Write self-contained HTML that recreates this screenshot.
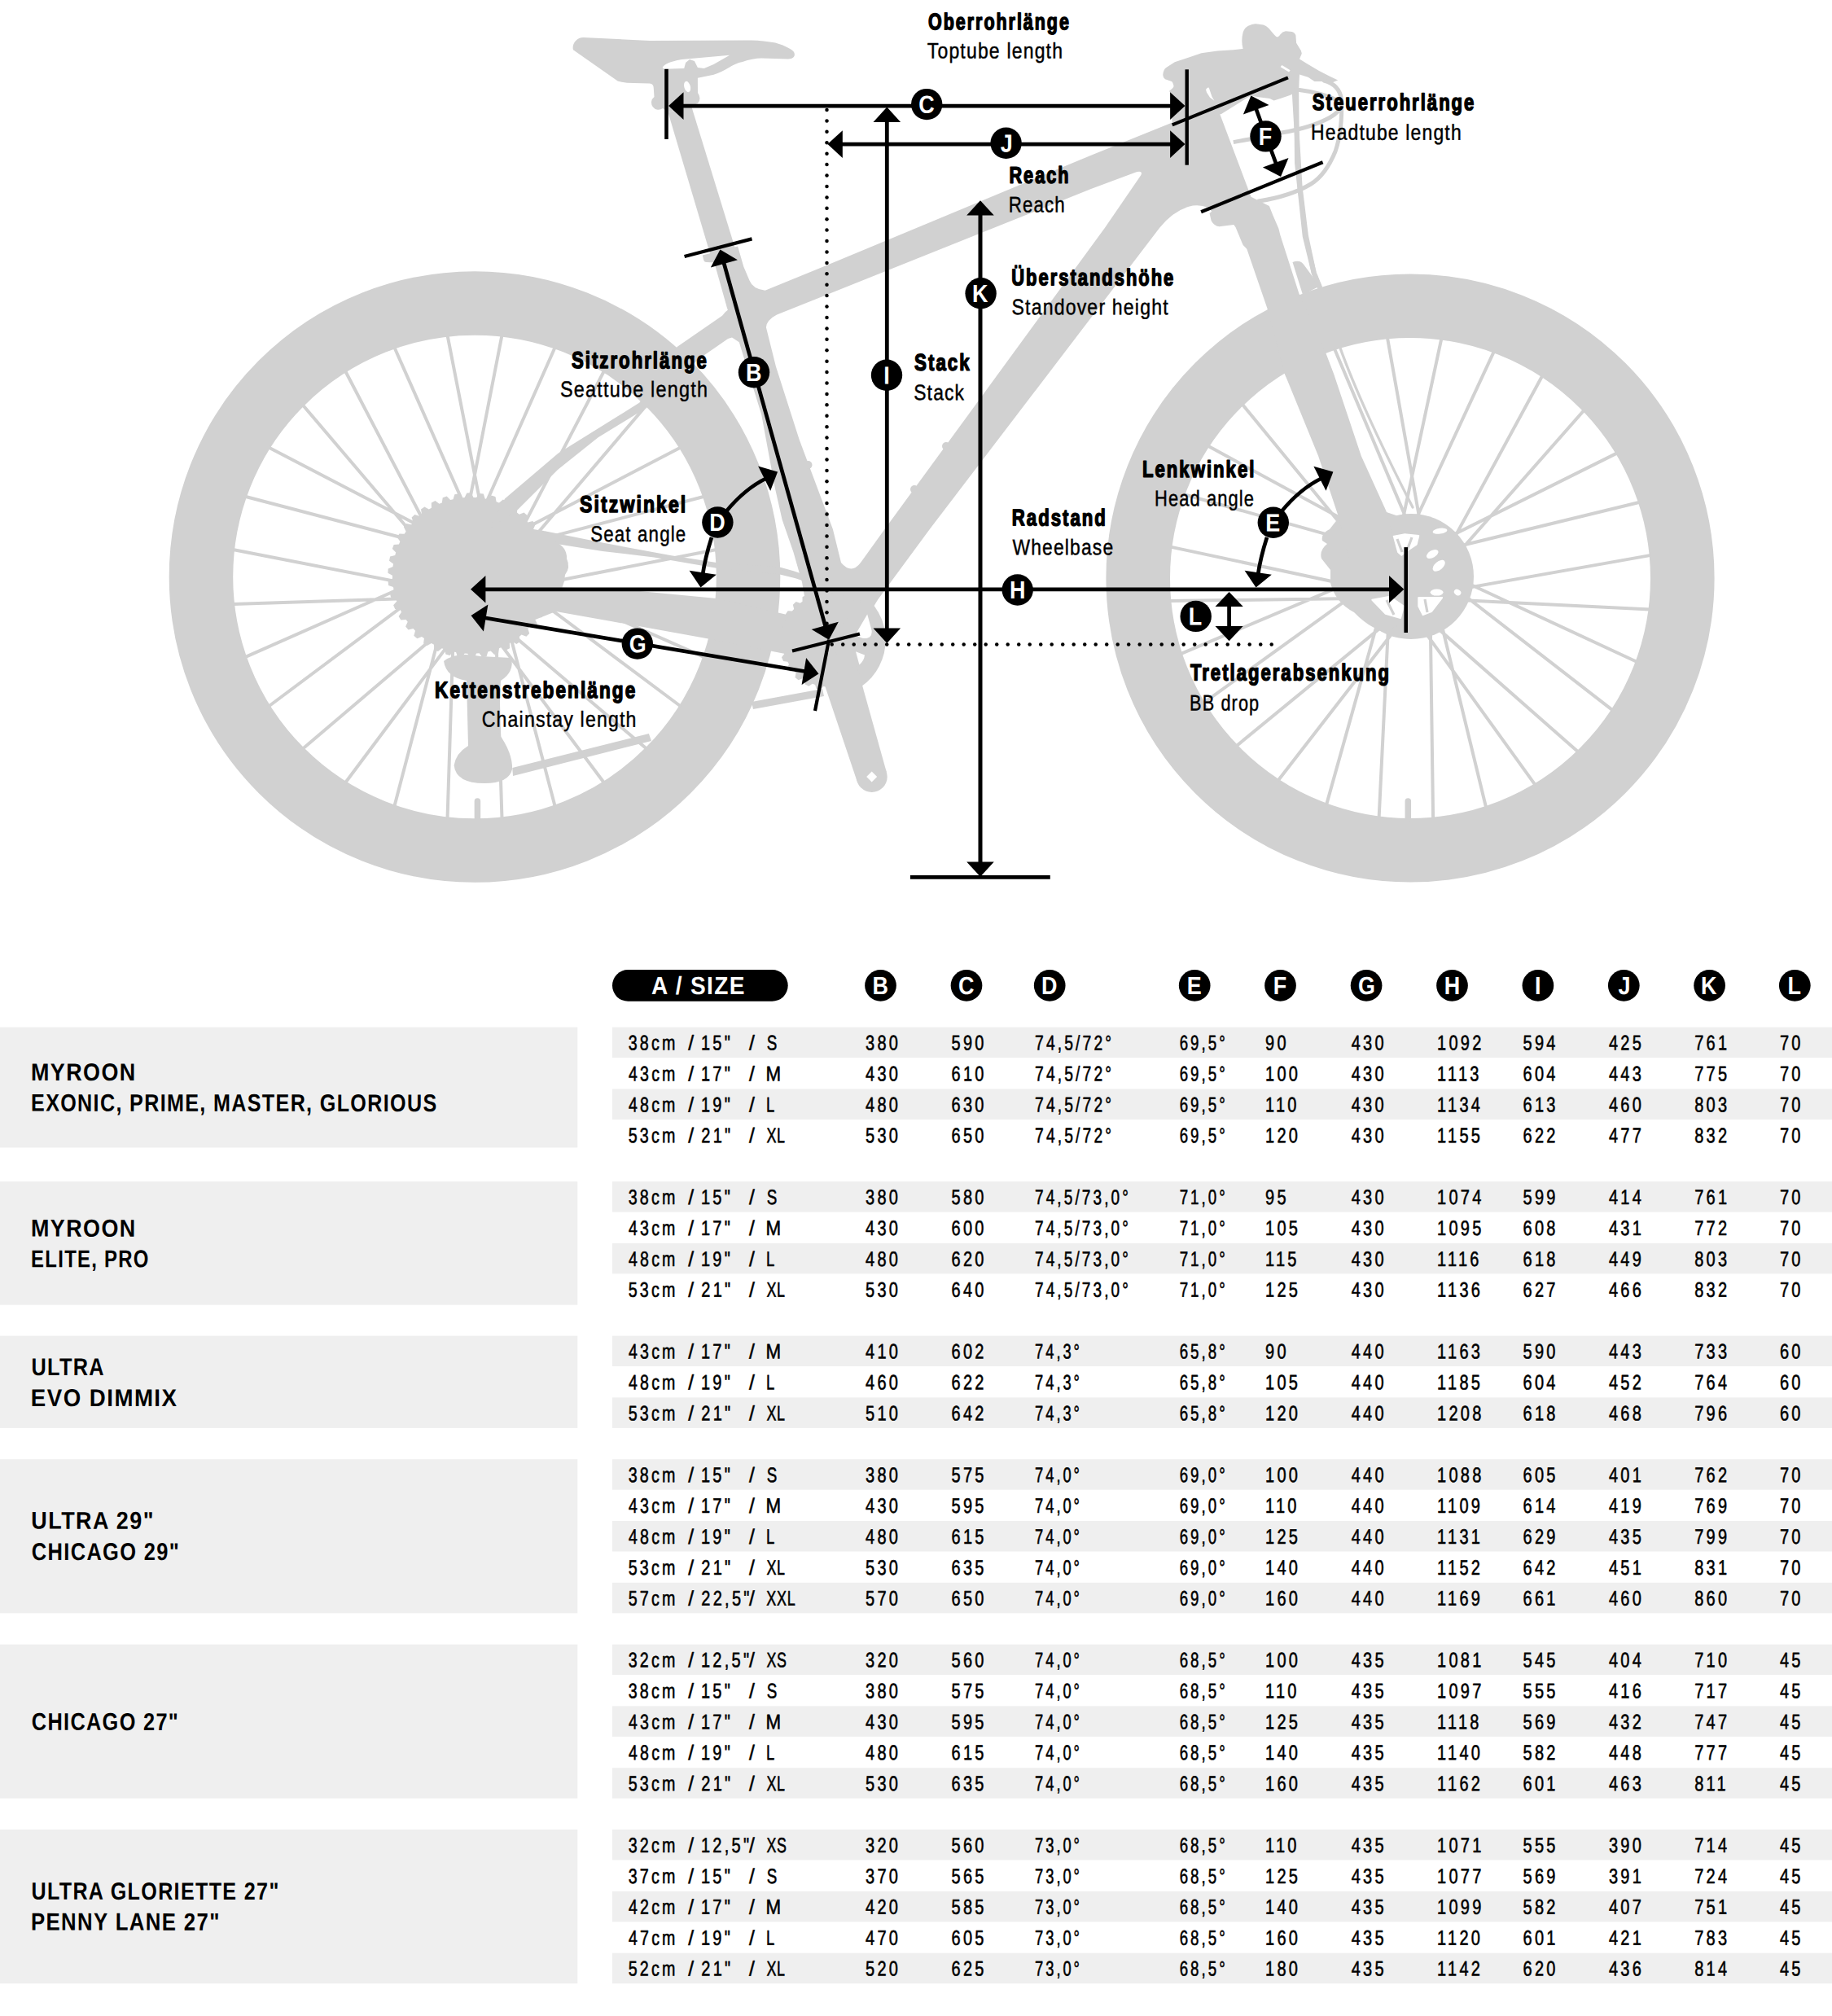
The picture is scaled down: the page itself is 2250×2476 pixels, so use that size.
<!DOCTYPE html>
<html lang="de">
<head>
<meta charset="utf-8">
<title>Geometrie</title>
<style>
html,body{margin:0;padding:0;background:#fff}
body{width:2250px;height:2476px;overflow:hidden}
svg{display:block;font-family:"Liberation Sans",sans-serif}
</style>
</head>
<body>
<svg width="2250" height="2476" viewBox="0 0 2250 2476">
<g id="bike">
<circle cx="583.0" cy="708.5" r="336.05" fill="none" stroke="#d1d1d1" stroke-width="78.50"/>
<path d="M616.5 411.6L559.4 703.9M681.7 426.5L561.1 698.8M742.0 455.5L604.3 719.6M794.3 497.2L601.3 724.0M836.0 549.5L571.9 687.2M865.0 609.8L576.9 685.3M879.9 675.0L587.6 732.1M879.9 742.0L582.3 732.5M865.0 807.2L592.7 686.6M836.0 867.5L597.4 689.3M794.3 919.8L567.5 726.8M742.0 961.5L563.8 722.9M681.7 990.5L606.2 702.4M616.5 1005.4L607.0 707.8M549.5 1005.4L559.0 707.8M484.3 990.5L559.8 702.4M424.0 961.5L602.2 722.9M371.7 919.8L598.5 726.8M330.0 867.5L568.6 689.3M301.0 807.2L573.3 686.6M286.1 742.0L583.7 732.5M286.1 675.0L578.4 732.1M301.0 609.8L589.1 685.3M330.0 549.5L594.1 687.2M371.7 497.2L564.7 724.0M424.0 455.5L561.7 719.6M484.3 426.5L604.9 698.8M549.5 411.6L606.6 703.9" fill="none" stroke="#d1d1d1" stroke-width="4.0"/>
<circle cx="1732.0" cy="710.0" r="334.30" fill="none" stroke="#d1d1d1" stroke-width="78.60"/>
<path d="M1770.4 415.5L1708.5 705.0M1835.0 431.4L1710.2 699.9M1894.4 461.3L1753.1 721.4M1945.6 503.7L1750.0 725.9M1986.2 556.4L1721.3 688.5M2014.0 616.8L1726.3 686.7M2027.7 681.9L1736.2 733.6M2026.5 748.4L1730.8 734.0M2010.6 813.0L1742.1 688.2M1980.7 872.4L1746.7 691.0M1938.3 923.6L1716.1 728.0M1885.6 964.2L1712.5 724.0M1825.2 992.0L1755.3 704.3M1760.1 1005.7L1756.0 709.7M1693.6 1004.5L1708.0 708.8M1629.0 988.6L1708.9 703.5M1569.6 958.7L1751.0 724.7M1518.4 916.3L1747.2 728.6M1477.8 863.6L1718.0 690.5M1450.0 803.2L1722.6 687.9M1436.3 738.1L1732.3 734.0M1437.5 671.6L1727.0 733.5M1453.4 607.0L1738.5 686.9M1483.3 547.6L1743.4 688.9M1525.7 496.4L1713.4 725.2M1578.4 455.8L1710.5 720.7M1638.8 428.0L1754.1 700.6M1703.9 414.3L1755.6 705.8" fill="none" stroke="#d1d1d1" stroke-width="4.0"/>
<path d="M586.4 984 L586.4 1006" fill="none" stroke="#d1d1d1" stroke-width="7.5" stroke-linecap="round" stroke-linejoin="round"/>
<path d="M1729.3 984 L1729.3 1006" fill="none" stroke="#d1d1d1" stroke-width="7.5" stroke-linecap="round" stroke-linejoin="round"/>
<polygon points="673.9,706.8 679.4,709.8 679.1,715.1 673.3,717.5 672.8,721.1 677.8,724.9 676.7,730.1 670.6,731.6 669.6,735.1 674.0,739.6 672.1,744.6 665.9,745.2 664.4,748.5 668.0,753.6 665.4,758.2 659.2,757.9 657.2,760.9 660.0,766.5 656.8,770.7 650.7,769.4 648.3,772.1 650.2,778.0 646.4,781.7 640.5,779.6 637.8,781.9 638.8,788.0 634.4,791.1 629.0,788.1 625.9,789.9 626.0,796.2 621.3,798.6 616.3,794.8 613.0,796.2 612.1,802.4 607.1,804.0 602.7,799.5 599.3,800.4 597.5,806.4 592.3,807.3 588.6,802.2 585.1,802.5 582.5,808.2 577.1,808.3 574.3,802.7 570.7,802.5 567.3,807.7 562.0,807.1 560.1,801.1 556.5,800.4 552.4,805.0 547.3,803.6 546.2,797.4 542.8,796.2 538.0,800.1 533.2,797.9 533.0,791.7 529.9,789.9 524.5,793.1 520.1,790.2 520.9,784.0 518.0,781.9 512.3,784.2 508.3,780.7 510.0,774.7 507.5,772.1 501.5,773.6 498.1,769.5 500.7,763.8 498.6,760.9 492.4,761.4 489.6,756.9 493.0,751.7 491.4,748.5 485.2,748.1 483.1,743.2 487.3,738.5 486.2,735.1 480.1,733.8 478.8,728.6 483.6,724.6 483.0,721.1 477.1,718.9 476.6,713.6 482.0,710.4 481.9,706.8 476.4,703.8 476.7,698.5 482.5,696.1 483.0,692.5 478.0,688.7 479.1,683.5 485.2,682.0 486.2,678.5 481.8,674.0 483.7,669.0 489.9,668.4 491.4,665.1 487.8,660.0 490.4,655.4 496.6,655.7 498.6,652.7 495.8,647.1 499.0,642.9 505.1,644.2 507.5,641.5 505.6,635.6 509.4,631.9 515.3,634.0 518.0,631.7 517.0,625.6 521.4,622.5 526.8,625.5 529.9,623.7 529.8,617.4 534.5,615.0 539.5,618.8 542.8,617.4 543.7,611.2 548.7,609.6 553.1,614.1 556.5,613.2 558.3,607.2 563.5,606.3 567.2,611.4 570.7,611.1 573.3,605.4 578.7,605.3 581.5,610.9 585.1,611.1 588.5,605.9 593.8,606.5 595.7,612.5 599.3,613.2 603.4,608.6 608.5,610.0 609.6,616.2 613.0,617.4 617.8,613.5 622.6,615.7 622.8,621.9 625.9,623.7 631.3,620.5 635.7,623.4 634.9,629.6 637.8,631.7 643.5,629.4 647.5,632.9 645.8,638.9 648.3,641.5 654.3,640.0 657.7,644.1 655.1,649.8 657.2,652.7 663.4,652.2 666.2,656.7 662.8,661.9 664.4,665.1 670.6,665.5 672.7,670.4 668.5,675.1 669.6,678.5 675.7,679.8 677.0,685.0 672.2,689.0 672.8,692.5 678.7,694.7 679.2,700.0 673.8,703.2" fill="#d1d1d1"/>
<circle cx="1733.0" cy="708.0" r="77" fill="#d1d1d1"/>
<path d="M1644 636 L1633 650 Q1622 655 1624 664 L1630 668 Q1620 676 1623 686 L1634 700 L1634 716 Q1640 740 1663 752 Q1680 770 1700 776 L1735 760 L1735 640 L1700 628 Z" fill="#d1d1d1"/>
<polygon points="1708.3,659.4 1725.3,656.2 1742.3,658.1 1739.7,668.6 1731.8,673.8 1721.4,681.7 1713.5,675.2" fill="#fff" stroke="#fff" stroke-width="2" stroke-linejoin="round"/>
<polygon points="1742.3,734.1 1771.1,734.1 1758.0,751.1 1747.6,755.1 1742.3,744.6" fill="#fff" stroke="#fff" stroke-width="2" stroke-linejoin="round"/>
<polygon points="1685.3,736.7 1706.9,732.8 1724.0,744.6 1720.0,759.0 1701.7,753.8" fill="#fff" stroke="#fff" stroke-width="2" stroke-linejoin="round"/>
<ellipse cx="1759.3" cy="680.4" rx="8" ry="4.4" transform="rotate(-30 1759.3 680.4)" fill="#fff"/>
<ellipse cx="1767.2" cy="694.8" rx="9" ry="5" transform="rotate(-40 1767.2 694.8)" fill="#fff"/>
<ellipse cx="1768.5" cy="652.2" rx="9" ry="3.4" transform="rotate(-8 1768.5 652.2)" fill="#fff"/>
<ellipse cx="1764.6" cy="727.6" rx="8" ry="4" transform="rotate(0 1764.6 727.6)" fill="#fff"/>
<ellipse cx="1790.1" cy="727.6" rx="4.5" ry="3.5" transform="rotate(30 1790.1 727.6)" fill="#fff"/>
<path d="M1716 662 L1722 678 M1734 660 L1728 676 M1750 736 L1753 752 M1703 737 L1712 755" fill="none" stroke="#d1d1d1" stroke-width="3.2" stroke-linejoin="round"/>
<path d="M716.4 45.9 C708 46 702 54 704 61.3 L758.6 99.6 Q768 102 778.3 102.1 L797.9 102.5 Q802.8 103 802.8 108.4 L803.5 119 A8.5 8.5 0 1 0 814 133 L820.5 137.9 L849 130 L856.9 127.1 Q862 121 857 114 L856.9 95.7 L876.5 91.7 C890 88 900 78 911.9 76 C920 73 928 71.5 935.5 71.5 L968 72.5 C978 72 978 64 970.8 60.3 C962 55 955 52.5 945.3 51.4 C935 49.8 925 49.5 915.8 49.5 L797.9 49.9 Z" fill="#d1d1d1"/>
<path d="M813.6 82.9 C816 79 822 76 837.2 73.1 L896.2 67.8 L876.5 79 L864.7 83.9 L856.9 82.9 L852.9 75 L847 73.1 L842.1 77 L840.2 83.9 L815.6 84.8 Z" fill="#fff"/>
<ellipse cx="844.1" cy="106.5" rx="3.8" ry="6.8" transform="rotate(-15 844.1 106.5)" fill="#fff"/>
<polygon points="820.5,137.9 849.0,130.0 905.0,312.0 874.0,318.0" fill="#d1d1d1"/>
<path d="M862.8 313.5 L906.1 302.4 L913.3 327.6 L920.5 344.5 Q924.5 355 939.7 356.7 L1030 319.8 L1340 190.7 L1439.7 150.4 L1438 125 L1494.9 131.2 L1537 242.9 L1536 250 L1490 262 L1484 254.9 Q1472 250.5 1460 253.7 Q1440 260 1424 280 L1141.8 650 L1078.1 736.5 L1040 800 L1000 800 L985 715 L974.4 677.9 L960.7 638.6 L951.8 599.3 L935.2 509.3 L907.7 420 L892.9 378.1 L877.3 322.4 L868 322 Q864.5 322 864 318.5 Z M940.9 402.1 Q941.5 393 954.1 386.5 L1340 232.1 L1396.4 211.1 Q1404 209.5 1401.2 215.3 L1356.8 280 L1086.5 650 L1057 691 Q1045.7 706 1033 691 L1022.9 650 L981.7 540 L952.9 450 Z" fill="#d1d1d1" fill-rule="evenodd"/>
<circle cx="1162" cy="548" r="5" fill="#d1d1d1"/><circle cx="1123" cy="601" r="5" fill="#d1d1d1"/>
<circle cx="992.5" cy="571" r="5" fill="#d1d1d1"/><circle cx="1013" cy="632" r="5" fill="#d1d1d1"/>
<polygon points="900.0,376.0 891.0,383.0 887.0,387.7 831.6,426.1 785.4,494.6 685.5,556.8 620.0,612.5 600.0,650.0 636.4,625.6 685.5,576.5 734.6,537.2 793.6,501.2 858.0,440.9 894.1,415.9 899.0,414.5 915.0,425.0" fill="#d1d1d1"/>
<polygon points="670.0,712.0 690.0,721.5 760.0,723.5 880.0,735.0 1010.0,765.0 1010.0,812.0 870.0,784.4 680.0,750.4" fill="#d1d1d1"/>
<polygon points="668.0,652.0 740.0,666.6 824.5,682.3 880.0,691.0 957.7,696.6 975.4,701.5 1000.0,710.0 1000.0,718.0 977.0,710.3 957.7,705.4 880.0,697.8 803.2,684.5 740.0,677.0 677.0,667.0" fill="#d1d1d1"/>
<path d="M655 650 L668 652 L680 664 Q697 672 696 686 Q701 697 694 706 L693 714 L680 752 L655 762 Z" fill="#d1d1d1"/>
<polygon points="1075.7,786.0 1080.1,789.0 1079.7,794.2 1074.8,796.4 1074.0,799.8 1077.6,803.7 1075.9,808.7 1070.6,809.6 1069.1,812.7 1071.6,817.4 1068.8,821.8 1063.5,821.5 1061.2,824.1 1062.6,829.3 1058.7,832.9 1053.7,831.3 1050.9,833.3 1050.9,838.7 1046.3,841.2 1041.8,838.4 1038.6,839.8 1037.4,845.0 1032.3,846.4 1028.6,842.6 1025.1,843.1 1022.7,847.8 1017.5,848.0 1014.7,843.4 1011.3,843.1 1007.8,847.1 1002.6,846.0 1001.1,840.9 997.8,839.8 993.4,842.8 988.7,840.5 988.5,835.2 985.5,833.3 980.6,835.3 976.5,831.9 977.5,826.7 975.2,824.1 969.9,824.8 966.8,820.6 969.0,815.7 967.3,812.7 962.0,812.1 960.0,807.3 963.3,803.1 962.4,799.8 957.4,797.9 956.6,792.7 960.8,789.5 960.7,786.0 956.3,783.0 956.7,777.8 961.6,775.6 962.4,772.2 958.8,768.3 960.5,763.3 965.8,762.4 967.3,759.3 964.8,754.6 967.6,750.2 972.9,750.5 975.2,747.9 973.8,742.7 977.7,739.1 982.7,740.7 985.5,738.7 985.5,733.3 990.1,730.8 994.6,733.6 997.8,732.2 999.0,727.0 1004.1,725.6 1007.8,729.4 1011.3,728.9 1013.7,724.2 1018.9,724.0 1021.7,728.6 1025.1,728.9 1028.6,724.9 1033.8,726.0 1035.3,731.1 1038.6,732.2 1043.0,729.2 1047.7,731.5 1047.9,736.8 1050.9,738.7 1055.8,736.7 1059.9,740.1 1058.9,745.3 1061.2,747.9 1066.5,747.2 1069.6,751.4 1067.4,756.3 1069.1,759.3 1074.4,759.9 1076.4,764.7 1073.1,768.9 1074.0,772.2 1079.0,774.1 1079.8,779.3 1075.6,782.5" fill="#d1d1d1"/>
<path d="M1018.2 786.0 L1062.9 732.8 A69.5 69.5 0 0 1 1050.8 847.4 Z" fill="#d1d1d1"/>
<path d="M1065.2 754.4 L1052 777 Q1051 782 1056 782.5 Q1062 785.5 1068 782.5 Q1071.5 779 1070.5 774 Z" fill="#fff"/>
<path d="M1051 800.3 L1062 804.6 Q1061.5 811 1055.4 816.6 Z" fill="#fff"/>
<polygon points="1052.4,817.9 1088.8,948.2 1052.6,959.6 1009.5,831.5" fill="#d1d1d1"/>
<circle cx="1070.7" cy="953.9" r="19" fill="#d1d1d1"/>
<polygon points="1070.7,947.4 1077.2,953.9 1070.7,960.4 1064.2,953.9" fill="#fff"/>
<path d="M1485.5 262.1 L1487.7 271.3 Q1492 279 1499.2 278.1 L1515.3 275.9 L1517.6 279.3 L1526.7 301.1 L1531.3 305.7 L1556.5 379 L1578 459.4 L1619.1 560 L1644.3 635.7 L1660 700 L1722 700 L1702.4 627.5 L1671.8 560 L1638.2 459.4 L1628.2 433.2 L1595.5 360.7 L1572.6 289.6 L1570.3 280.4 L1563.4 264.4 L1558.8 252.9 L1537 242 L1500 250 Z" fill="#d1d1d1"/>
<path d="M1587.5 322 Q1597 318 1602 326 L1620.7 351.5 L1600 362 Z" fill="#d1d1d1"/>
<path d="M1589 100 L1596.6 230 L1604 290 L1613.8 335.5 L1622 356" fill="none" stroke="#d1d1d1" stroke-width="6" stroke-linejoin="round"/>
<path d="M1645.7 426.6 Q1672 500 1735 623" fill="none" stroke="#d1d1d1" stroke-width="3.2" stroke-linecap="round" stroke-linejoin="round"/>
<path d="M1428.3 91.4 Q1429 85 1432.3 82.9 L1442.8 76.3 L1462.4 69.8 L1475.5 65.2 L1495.2 62.6 L1514.8 61.3 L1526.6 60 Q1524 50 1526.6 39.7 Q1529 33.5 1533.1 31.8 Q1538 29 1542.3 29.2 L1551.5 30.5 Q1555 31.5 1558 34.4 L1564.6 42.3 Q1567 45.5 1569.2 45.5 Q1571 45 1572.5 42.3 Q1575 39 1579 38.3 L1586.9 39 Q1590.5 40 1591.4 43.6 L1592.1 52.8 L1596 59.3 Q1599 63 1598.7 65.9 L1596 72.4 L1606.5 79 L1619.6 86.8 L1632.7 93.4 L1643.2 98.6 L1636 101.5 L1624.9 99.9 L1614.4 99.9 L1606.5 94.7 L1596 91.4 L1595 112 L1584.2 117 L1572.5 120.9 L1564.6 123.5 L1559.4 120.9 L1547.6 119.6 L1535.8 117.6 L1500 140 L1450 150 L1436.2 111.7 Q1442.5 107 1441.4 105.2 Q1440.5 100.5 1438.8 99.9 L1431 97.3 Q1428 95 1428.3 91.4 Z" fill="#d1d1d1"/>
<path d="M1481 110 Q1483 106.5 1484.8 107.8 L1486.2 112 L1488.6 119 L1491.4 123.7 L1486 119.8 L1482 113.5 Z" fill="#fff"/>
<path d="M1572.6 82.2 L1574.4 80 L1584.6 86.2 L1583 88.6 Z" fill="#fff"/>
<path d="M1592 95 L1593 200 L1602.7 290 L1613.8 335.5 L1621 353" fill="none" stroke="#d1d1d1" stroke-width="6" stroke-linejoin="round"/>
<path d="M1626 99 Q1645 104 1647.5 122 Q1649 160 1640 186 Q1628 215 1610 226 Q1585 241 1546 247" fill="none" stroke="#d1d1d1" stroke-width="5" stroke-linecap="round" stroke-linejoin="round"/>
<path d="M1596 110.5 Q1625 114 1644 124" fill="none" stroke="#d1d1d1" stroke-width="5" stroke-linecap="round" stroke-linejoin="round"/>
<path d="M1573.8 163 Q1610 157 1633 144.5 Q1645 138 1648 128" fill="none" stroke="#d1d1d1" stroke-width="5" stroke-linecap="round" stroke-linejoin="round"/>
<path d="M1514.8 174.6 L1536 170.7" fill="none" stroke="#d1d1d1" stroke-width="5" stroke-linejoin="round"/>
<path d="M545 812 Q560 800 590 806 L628 808 Q632 825 615 836 L612 900 Q630 925 629 945 Q625 962 595 962 Q560 962 557.6 940 Q560 925 575 916 L573 836 Q548 832 545 812 Z" fill="#d1d1d1"/>
<path d="M629.3 943 L796.9 901 L800 910 L630 953 Z" fill="#d1d1d1"/>
<path d="M923 862 L1010 846 L1012 855 L925 871 Z" fill="#d1d1d1"/>
</g>
<g id="dimensions">
<line x1="818.5" y1="84.8" x2="818.5" y2="170.9" stroke="#000" stroke-width="4.6"/>
<line x1="1457.7" y1="85.3" x2="1457.7" y2="202.7" stroke="#000" stroke-width="4.4"/>
<line x1="835.0" y1="130.1" x2="1440.0" y2="130.1" stroke="#000" stroke-width="4.7"/>
<polygon points="821.1,130.1 839.5,113.3 839.5,146.9" fill="#000"/>
<polygon points="1455.5,130.1 1437.1,146.9 1437.1,113.3" fill="#000"/>
<line x1="1030.0" y1="177.1" x2="1440.0" y2="177.1" stroke="#000" stroke-width="4.7"/>
<polygon points="1016.4,177.1 1034.8,160.3 1034.8,193.9" fill="#000"/>
<polygon points="1455.5,177.1 1437.1,193.9 1437.1,160.3" fill="#000"/>
<g fill="#000"><circle cx="1015.5" cy="135.0" r="2.25"/><circle cx="1015.5" cy="148.4" r="2.25"/><circle cx="1015.5" cy="161.8" r="2.25"/><circle cx="1015.5" cy="175.3" r="2.25"/><circle cx="1015.5" cy="188.7" r="2.25"/><circle cx="1015.5" cy="202.1" r="2.25"/><circle cx="1015.5" cy="215.5" r="2.25"/><circle cx="1015.5" cy="228.9" r="2.25"/><circle cx="1015.5" cy="242.4" r="2.25"/><circle cx="1015.5" cy="255.8" r="2.25"/><circle cx="1015.5" cy="269.2" r="2.25"/><circle cx="1015.5" cy="282.6" r="2.25"/><circle cx="1015.5" cy="296.0" r="2.25"/><circle cx="1015.5" cy="309.5" r="2.25"/><circle cx="1015.5" cy="322.9" r="2.25"/><circle cx="1015.5" cy="336.3" r="2.25"/><circle cx="1015.5" cy="349.7" r="2.25"/><circle cx="1015.5" cy="363.1" r="2.25"/><circle cx="1015.5" cy="376.6" r="2.25"/><circle cx="1015.5" cy="390.0" r="2.25"/><circle cx="1015.5" cy="403.4" r="2.25"/><circle cx="1015.5" cy="416.8" r="2.25"/><circle cx="1015.5" cy="430.2" r="2.25"/><circle cx="1015.5" cy="443.7" r="2.25"/><circle cx="1015.5" cy="457.1" r="2.25"/><circle cx="1015.5" cy="470.5" r="2.25"/><circle cx="1015.5" cy="483.9" r="2.25"/><circle cx="1015.5" cy="497.3" r="2.25"/><circle cx="1015.5" cy="510.8" r="2.25"/><circle cx="1015.5" cy="524.2" r="2.25"/><circle cx="1015.5" cy="537.6" r="2.25"/><circle cx="1015.5" cy="551.0" r="2.25"/><circle cx="1015.5" cy="564.4" r="2.25"/><circle cx="1015.5" cy="577.9" r="2.25"/><circle cx="1015.5" cy="591.3" r="2.25"/><circle cx="1015.5" cy="604.7" r="2.25"/><circle cx="1015.5" cy="618.1" r="2.25"/><circle cx="1015.5" cy="631.5" r="2.25"/><circle cx="1015.5" cy="645.0" r="2.25"/><circle cx="1015.5" cy="658.4" r="2.25"/><circle cx="1015.5" cy="671.8" r="2.25"/><circle cx="1015.5" cy="685.2" r="2.25"/><circle cx="1015.5" cy="698.6" r="2.25"/><circle cx="1015.5" cy="712.1" r="2.25"/><circle cx="1015.5" cy="725.5" r="2.25"/><circle cx="1015.5" cy="738.9" r="2.25"/><circle cx="1015.5" cy="752.3" r="2.25"/><circle cx="1015.5" cy="765.7" r="2.25"/></g>
<g fill="#000"><circle cx="1021.7" cy="791.5" r="2.25"/><circle cx="1035.2" cy="791.5" r="2.25"/><circle cx="1048.7" cy="791.5" r="2.25"/><circle cx="1062.2" cy="791.5" r="2.25"/><circle cx="1075.7" cy="791.5" r="2.25"/><circle cx="1089.2" cy="791.5" r="2.25"/><circle cx="1102.7" cy="791.5" r="2.25"/><circle cx="1116.2" cy="791.5" r="2.25"/><circle cx="1129.7" cy="791.5" r="2.25"/><circle cx="1143.2" cy="791.5" r="2.25"/><circle cx="1156.7" cy="791.5" r="2.25"/><circle cx="1170.2" cy="791.5" r="2.25"/><circle cx="1183.7" cy="791.5" r="2.25"/><circle cx="1197.2" cy="791.5" r="2.25"/><circle cx="1210.7" cy="791.5" r="2.25"/><circle cx="1224.2" cy="791.5" r="2.25"/><circle cx="1237.7" cy="791.5" r="2.25"/><circle cx="1251.2" cy="791.5" r="2.25"/><circle cx="1264.7" cy="791.5" r="2.25"/><circle cx="1278.2" cy="791.5" r="2.25"/><circle cx="1291.7" cy="791.5" r="2.25"/><circle cx="1305.2" cy="791.5" r="2.25"/><circle cx="1318.7" cy="791.5" r="2.25"/><circle cx="1332.2" cy="791.5" r="2.25"/><circle cx="1345.7" cy="791.5" r="2.25"/><circle cx="1359.2" cy="791.5" r="2.25"/><circle cx="1372.7" cy="791.5" r="2.25"/><circle cx="1386.2" cy="791.5" r="2.25"/><circle cx="1399.7" cy="791.5" r="2.25"/><circle cx="1413.2" cy="791.5" r="2.25"/><circle cx="1426.7" cy="791.5" r="2.25"/><circle cx="1440.2" cy="791.5" r="2.25"/><circle cx="1453.7" cy="791.5" r="2.25"/><circle cx="1467.2" cy="791.5" r="2.25"/><circle cx="1480.7" cy="791.5" r="2.25"/><circle cx="1494.2" cy="791.5" r="2.25"/><circle cx="1507.7" cy="791.5" r="2.25"/><circle cx="1521.2" cy="791.5" r="2.25"/><circle cx="1534.7" cy="791.5" r="2.25"/><circle cx="1548.2" cy="791.5" r="2.25"/><circle cx="1561.7" cy="791.5" r="2.25"/></g>
<line x1="1089.3" y1="145.0" x2="1089.3" y2="775.0" stroke="#000" stroke-width="4.8"/>
<polygon points="1089.3,131.6 1106.1,150.0 1072.5,150.0" fill="#000"/>
<polygon points="1089.3,789.9 1072.5,771.5 1106.1,771.5" fill="#000"/>
<line x1="1204.0" y1="260.0" x2="1204.0" y2="1062.0" stroke="#000" stroke-width="5.0"/>
<polygon points="1204.0,246.2 1220.8,264.6 1187.2,264.6" fill="#000"/>
<polygon points="1204.0,1076.8 1187.2,1058.4 1220.8,1058.4" fill="#000"/>
<line x1="1117.9" y1="1077.4" x2="1289.8" y2="1077.4" stroke="#000" stroke-width="4.6"/>
<line x1="592.0" y1="723.8" x2="1712.0" y2="723.8" stroke="#000" stroke-width="4.7"/>
<polygon points="578.0,723.8 596.4,707.0 596.4,740.6" fill="#000"/>
<polygon points="1724.4,723.8 1706.0,740.6 1706.0,707.0" fill="#000"/>
<line x1="1726.7" y1="672.1" x2="1726.7" y2="777.0" stroke="#000" stroke-width="4.6"/>
<line x1="840.6" y1="315.0" x2="923.5" y2="293.4" stroke="#000" stroke-width="4.2"/>
<line x1="888.5" y1="321.0" x2="1014.5" y2="772.0" stroke="#000" stroke-width="4.7"/>
<polygon points="884.5,306.6 905.9,319.3 872.8,328.6" fill="#000"/>
<polygon points="1018.1,785.7 996.7,773.0 1029.8,763.7" fill="#000"/>
<line x1="973.0" y1="799.5" x2="1055.9" y2="778.5" stroke="#000" stroke-width="4.2"/>
<line x1="592.0" y1="758.3" x2="997.0" y2="826.0" stroke="#000" stroke-width="4.7"/>
<polygon points="578.5,756.0 599.4,742.5 593.9,775.6" fill="#000"/>
<polygon points="1005.5,827.5 984.6,841.0 990.1,807.9" fill="#000"/>
<line x1="1018.1" y1="785.7" x2="1001.0" y2="873.0" stroke="#000" stroke-width="4.2"/>
<line x1="1439.7" y1="153.4" x2="1581.9" y2="95.4" stroke="#000" stroke-width="4.2"/>
<line x1="1475.1" y1="260.3" x2="1624.6" y2="199.3" stroke="#000" stroke-width="4.2"/>
<line x1="1541.5" y1="130.5" x2="1568.3" y2="204.0" stroke="#000" stroke-width="4.7"/>
<polygon points="1536.4,117.4 1558.5,128.9 1526.9,140.4" fill="#000"/>
<polygon points="1573.0,216.9 1550.9,205.4 1582.5,193.9" fill="#000"/>
<line x1="1509.6" y1="740.0" x2="1509.6" y2="775.0" stroke="#000" stroke-width="4.8"/>
<polygon points="1509.6,726.9 1526.7,744.9 1492.5,744.9" fill="#000"/>
<polygon points="1509.6,787.2 1492.5,768.9 1526.7,768.9" fill="#000"/>
<path d="M892 628 Q915 600 942 587" fill="none" stroke="#000" stroke-width="4.7"/>
<polygon points="955.1,579.4 946.2,602.7 931.1,572.6" fill="#000"/>
<path d="M874 660 Q866 685 863 706" fill="none" stroke="#000" stroke-width="4.7"/>
<polygon points="860.5,721.5 846.6,700.8 879.8,705.8" fill="#000"/>
<path d="M1574 628 Q1597 600 1624 587" fill="none" stroke="#000" stroke-width="4.7"/>
<polygon points="1637.4,579.5 1628.5,602.8 1613.4,572.7" fill="#000"/>
<path d="M1556 660 Q1548 685 1545 706" fill="none" stroke="#000" stroke-width="4.7"/>
<polygon points="1542.5,721.5 1528.6,700.8 1561.8,705.8" fill="#000"/>
<circle cx="1138.2" cy="128.1" r="19.2" fill="#000"/>
<circle cx="1235.6" cy="175.8" r="19.2" fill="#000"/>
<circle cx="1554.5" cy="167.4" r="19.2" fill="#000"/>
<circle cx="1204.6" cy="360.3" r="19.2" fill="#000"/>
<circle cx="926.0" cy="457.3" r="19.2" fill="#000"/>
<circle cx="1089.0" cy="460.8" r="19.2" fill="#000"/>
<circle cx="881.4" cy="641.5" r="19.2" fill="#000"/>
<circle cx="1563.8" cy="641.8" r="19.2" fill="#000"/>
<circle cx="1249.7" cy="724.5" r="19.2" fill="#000"/>
<circle cx="1468.7" cy="756.9" r="19.2" fill="#000"/>
<circle cx="782.8" cy="790.6" r="19.2" fill="#000"/>
</g>
<g id="labels">
<text transform="translate(1128.31 138.70) scale(0.8800 1) rotate(0.04)" font-size="30.60" font-weight="700" fill="#fff">C</text>
<text transform="translate(1228.87 186.40) scale(0.8800 1) rotate(0.04)" font-size="30.60" font-weight="700" fill="#fff">J</text>
<text transform="translate(1545.87 178.00) scale(0.8800 1) rotate(0.04)" font-size="30.60" font-weight="700" fill="#fff">F</text>
<text transform="translate(1194.08 370.90) scale(0.8800 1) rotate(0.04)" font-size="30.60" font-weight="700" fill="#fff">K</text>
<text transform="translate(915.90 467.90) scale(0.8800 1) rotate(0.04)" font-size="30.60" font-weight="700" fill="#fff">B</text>
<text transform="translate(1085.21 471.40) scale(0.8800 1) rotate(0.04)" font-size="30.60" font-weight="700" fill="#fff">I</text>
<text transform="translate(871.30 652.10) scale(0.8800 1) rotate(0.04)" font-size="30.60" font-weight="700" fill="#fff">D</text>
<text transform="translate(1554.33 652.40) scale(0.8800 1) rotate(0.04)" font-size="30.60" font-weight="700" fill="#fff">E</text>
<text transform="translate(1240.02 735.10) scale(0.8800 1) rotate(0.04)" font-size="30.60" font-weight="700" fill="#fff">H</text>
<text transform="translate(1459.86 767.50) scale(0.8800 1) rotate(0.04)" font-size="30.60" font-weight="700" fill="#fff">L</text>
<text transform="translate(772.70 801.20) scale(0.8800 1) rotate(0.04)" font-size="30.60" font-weight="700" fill="#fff">G</text>
<text transform="translate(1140.09 36.15) scale(0.7540 1) rotate(0.04)" font-size="28.50" textLength="231.766" lengthAdjust="spacingAndGlyphs" font-weight="700" letter-spacing="2.60" stroke="#000" stroke-width="1.50" stroke-linejoin="round">Oberrohrlänge</text>
<text transform="translate(1138.73 71.38) scale(0.8483 1) rotate(0.04)" font-size="27.10" textLength="197.375" lengthAdjust="spacingAndGlyphs" letter-spacing="1.40" stroke="#000" stroke-width="0.45" stroke-linejoin="round">Toptube length</text>
<text transform="translate(1611.84 135.05) scale(0.7739 1) rotate(0.04)" font-size="28.50" textLength="259.141" lengthAdjust="spacingAndGlyphs" font-weight="700" letter-spacing="2.60" stroke="#000" stroke-width="1.50" stroke-linejoin="round">Steuerrohrlänge</text>
<text transform="translate(1610.00 171.58) scale(0.8453 1) rotate(0.04)" font-size="27.10" textLength="219.859" lengthAdjust="spacingAndGlyphs" letter-spacing="1.40" stroke="#000" stroke-width="0.45" stroke-linejoin="round">Headtube length</text>
<text transform="translate(1239.52 224.65) scale(0.7594 1) rotate(0.04)" font-size="28.50" textLength="98.547" lengthAdjust="spacingAndGlyphs" font-weight="700" letter-spacing="2.60" stroke="#000" stroke-width="1.50" stroke-linejoin="round">Reach</text>
<text transform="translate(1238.74 260.38) scale(0.8223 1) rotate(0.04)" font-size="27.10" textLength="85.328" lengthAdjust="spacingAndGlyphs" letter-spacing="1.40" stroke="#000" stroke-width="0.45" stroke-linejoin="round">Reach</text>
<text transform="translate(1242.25 350.25) scale(0.7694 1) rotate(0.04)" font-size="28.50" textLength="261.281" lengthAdjust="spacingAndGlyphs" font-weight="700" letter-spacing="2.60" stroke="#000" stroke-width="1.50" stroke-linejoin="round">Überstandshöhe</text>
<text transform="translate(1242.47 386.18) scale(0.8506 1) rotate(0.04)" font-size="27.10" textLength="227.266" lengthAdjust="spacingAndGlyphs" letter-spacing="1.40" stroke="#000" stroke-width="0.45" stroke-linejoin="round">Standover height</text>
<text transform="translate(1122.94 454.75) scale(0.7846 1) rotate(0.04)" font-size="28.50" textLength="89.062" lengthAdjust="spacingAndGlyphs" font-weight="700" letter-spacing="2.60" stroke="#000" stroke-width="1.50" stroke-linejoin="round">Stack</text>
<text transform="translate(1122.18 491.28) scale(0.8433 1) rotate(0.04)" font-size="27.10" textLength="74.766" lengthAdjust="spacingAndGlyphs" letter-spacing="1.40" stroke="#000" stroke-width="0.45" stroke-linejoin="round">Stack</text>
<text transform="translate(701.94 452.05) scale(0.7779 1) rotate(0.04)" font-size="28.50" textLength="215.906" lengthAdjust="spacingAndGlyphs" font-weight="700" letter-spacing="2.60" stroke="#000" stroke-width="1.50" stroke-linejoin="round">Sitzrohrlänge</text>
<text transform="translate(687.96 487.18) scale(0.8644 1) rotate(0.04)" font-size="27.10" textLength="210.828" lengthAdjust="spacingAndGlyphs" letter-spacing="1.40" stroke="#000" stroke-width="0.45" stroke-linejoin="round">Seattube length</text>
<text transform="translate(712.05 629.05) scale(0.8078 1) rotate(0.04)" font-size="28.50" textLength="163.797" lengthAdjust="spacingAndGlyphs" font-weight="700" letter-spacing="2.60" stroke="#000" stroke-width="1.50" stroke-linejoin="round">Sitzwinkel</text>
<text transform="translate(725.19 664.88) scale(0.8231 1) rotate(0.04)" font-size="27.10" textLength="143.562" lengthAdjust="spacingAndGlyphs" letter-spacing="1.40" stroke="#000" stroke-width="0.45" stroke-linejoin="round">Seat angle</text>
<text transform="translate(1242.80 645.35) scale(0.7770 1) rotate(0.04)" font-size="28.50" textLength="150.656" lengthAdjust="spacingAndGlyphs" font-weight="700" letter-spacing="2.60" stroke="#000" stroke-width="1.50" stroke-linejoin="round">Radstand</text>
<text transform="translate(1243.39 681.28) scale(0.8431 1) rotate(0.04)" font-size="27.10" textLength="148.156" lengthAdjust="spacingAndGlyphs" letter-spacing="1.40" stroke="#000" stroke-width="0.45" stroke-linejoin="round">Wheelbase</text>
<text transform="translate(1402.90 585.85) scale(0.7768 1) rotate(0.04)" font-size="28.50" textLength="179.641" lengthAdjust="spacingAndGlyphs" font-weight="700" letter-spacing="2.60" stroke="#000" stroke-width="1.50" stroke-linejoin="round">Lenkwinkel</text>
<text transform="translate(1417.97 621.28) scale(0.8070 1) rotate(0.04)" font-size="27.10" textLength="152.594" lengthAdjust="spacingAndGlyphs" letter-spacing="1.40" stroke="#000" stroke-width="0.45" stroke-linejoin="round">Head angle</text>
<text transform="translate(1461.98 835.45) scale(0.7747 1) rotate(0.04)" font-size="28.50" textLength="317.641" lengthAdjust="spacingAndGlyphs" font-weight="700" letter-spacing="2.60" stroke="#000" stroke-width="1.50" stroke-linejoin="round">Tretlagerabsenkung</text>
<text transform="translate(1461.09 872.58) scale(0.8005 1) rotate(0.04)" font-size="27.10" textLength="107.703" lengthAdjust="spacingAndGlyphs" letter-spacing="1.40" stroke="#000" stroke-width="0.45" stroke-linejoin="round">BB drop</text>
<text transform="translate(534.08 856.95) scale(0.7935 1) rotate(0.04)" font-size="28.50" textLength="312.875" lengthAdjust="spacingAndGlyphs" font-weight="700" letter-spacing="2.60" stroke="#000" stroke-width="1.50" stroke-linejoin="round">Kettenstrebenlänge</text>
<text transform="translate(591.71 892.48) scale(0.8511 1) rotate(0.04)" font-size="27.10" textLength="224.234" lengthAdjust="spacingAndGlyphs" letter-spacing="1.40" stroke="#000" stroke-width="0.45" stroke-linejoin="round">Chainstay length</text>
</g>
<g id="table">
<rect x="752" y="1191.1" width="215.7" height="38.7" rx="19.35" fill="#000"/>
<circle cx="1081.5" cy="1210.4" r="19.35" fill="#000"/>
<circle cx="1187.0" cy="1210.4" r="19.35" fill="#000"/>
<circle cx="1289.2" cy="1210.4" r="19.35" fill="#000"/>
<circle cx="1467.2" cy="1210.4" r="19.35" fill="#000"/>
<circle cx="1572.5" cy="1210.4" r="19.35" fill="#000"/>
<circle cx="1678.1" cy="1210.4" r="19.35" fill="#000"/>
<circle cx="1783.5" cy="1210.4" r="19.35" fill="#000"/>
<circle cx="1888.9" cy="1210.4" r="19.35" fill="#000"/>
<circle cx="1994.3" cy="1210.4" r="19.35" fill="#000"/>
<circle cx="2099.6" cy="1210.4" r="19.35" fill="#000"/>
<circle cx="2204.3" cy="1210.4" r="19.35" fill="#000"/>
<rect x="0" y="1261.60" width="709.3" height="147.90" fill="#efefef"/>
<rect x="752" y="1261.60" width="1498" height="37.5" fill="#efefef"/>
<rect x="752" y="1337.40" width="1498" height="37.5" fill="#efefef"/>
<rect x="0" y="1451.10" width="709.3" height="151.60" fill="#efefef"/>
<rect x="752" y="1451.10" width="1498" height="37.5" fill="#efefef"/>
<rect x="752" y="1526.90" width="1498" height="37.5" fill="#efefef"/>
<rect x="0" y="1640.60" width="709.3" height="113.30" fill="#efefef"/>
<rect x="752" y="1640.60" width="1498" height="37.5" fill="#efefef"/>
<rect x="752" y="1716.40" width="1498" height="37.5" fill="#efefef"/>
<rect x="0" y="1792.20" width="709.3" height="189.10" fill="#efefef"/>
<rect x="752" y="1792.20" width="1498" height="37.5" fill="#efefef"/>
<rect x="752" y="1868.00" width="1498" height="37.5" fill="#efefef"/>
<rect x="752" y="1943.80" width="1498" height="37.5" fill="#efefef"/>
<rect x="0" y="2019.60" width="709.3" height="189.10" fill="#efefef"/>
<rect x="752" y="2019.60" width="1498" height="37.5" fill="#efefef"/>
<rect x="752" y="2095.40" width="1498" height="37.5" fill="#efefef"/>
<rect x="752" y="2171.20" width="1498" height="37.5" fill="#efefef"/>
<rect x="0" y="2247.00" width="709.3" height="189.10" fill="#efefef"/>
<rect x="752" y="2247.00" width="1498" height="37.5" fill="#efefef"/>
<rect x="752" y="2322.80" width="1498" height="37.5" fill="#efefef"/>
<rect x="752" y="2398.60" width="1498" height="37.5" fill="#efefef"/>
</g>
<g id="table-text">
<text transform="translate(799.96 1221.00) scale(0.9156 1) rotate(0.04)" font-size="30.60" textLength="126.469" lengthAdjust="spacingAndGlyphs" font-weight="700" letter-spacing="1.50" fill="#fff">A / SIZE</text>
<text transform="translate(1071.40 1221.00) scale(0.8800 1) rotate(0.04)" font-size="30.60" font-weight="700" fill="#fff">B</text>
<text transform="translate(1177.11 1221.00) scale(0.8800 1) rotate(0.04)" font-size="30.60" font-weight="700" fill="#fff">C</text>
<text transform="translate(1279.10 1221.00) scale(0.8800 1) rotate(0.04)" font-size="30.60" font-weight="700" fill="#fff">D</text>
<text transform="translate(1457.73 1221.00) scale(0.8800 1) rotate(0.04)" font-size="30.60" font-weight="700" fill="#fff">E</text>
<text transform="translate(1563.87 1221.00) scale(0.8800 1) rotate(0.04)" font-size="30.60" font-weight="700" fill="#fff">F</text>
<text transform="translate(1668.00 1221.00) scale(0.8800 1) rotate(0.04)" font-size="30.60" font-weight="700" fill="#fff">G</text>
<text transform="translate(1773.82 1221.00) scale(0.8800 1) rotate(0.04)" font-size="30.60" font-weight="700" fill="#fff">H</text>
<text transform="translate(1885.11 1221.00) scale(0.8800 1) rotate(0.04)" font-size="30.60" font-weight="700" fill="#fff">I</text>
<text transform="translate(1987.57 1221.00) scale(0.8800 1) rotate(0.04)" font-size="30.60" font-weight="700" fill="#fff">J</text>
<text transform="translate(2089.08 1221.00) scale(0.8800 1) rotate(0.04)" font-size="30.60" font-weight="700" fill="#fff">K</text>
<text transform="translate(2195.46 1221.00) scale(0.8800 1) rotate(0.04)" font-size="30.60" font-weight="700" fill="#fff">L</text>
<text transform="translate(37.92 1327.00) scale(0.8969 1) rotate(0.04)" font-size="30.00" textLength="144.609" lengthAdjust="spacingAndGlyphs" font-weight="700" letter-spacing="1.60">MYROON</text>
<text transform="translate(38.03 1364.60) scale(0.8376 1) rotate(0.04)" font-size="30.00" textLength="596.312" lengthAdjust="spacingAndGlyphs" font-weight="700" letter-spacing="1.60">EXONIC, PRIME, MASTER, GLORIOUS</text>
<text transform="translate(771.72 1289.58) scale(0.7669 1) rotate(0.04)" font-size="25.60" textLength="79.391" lengthAdjust="spacingAndGlyphs" letter-spacing="4.20" stroke="#000" stroke-width="0.60" stroke-linejoin="round">38cm</text>
<text transform="translate(845.19 1289.58) scale(0.9615 1) rotate(0.04)" font-size="25.60" stroke="#000" stroke-width="0.60" stroke-linejoin="round">/</text>
<text transform="translate(860.99 1289.58) scale(0.7800 1) rotate(0.04)" font-size="25.60" textLength="50.156" lengthAdjust="spacingAndGlyphs" letter-spacing="4.20" stroke="#000" stroke-width="0.60" stroke-linejoin="round">15&quot;</text>
<text transform="translate(919.99 1289.58) scale(0.9615 1) rotate(0.04)" font-size="25.60" stroke="#000" stroke-width="0.60" stroke-linejoin="round">/</text>
<text transform="translate(941.63 1289.58) scale(0.7342 1) rotate(0.04)" font-size="25.60" letter-spacing="1.00" stroke="#000" stroke-width="0.60" stroke-linejoin="round">S</text>
<text transform="translate(1063.10 1289.58) scale(0.7800 1) rotate(0.04)" font-size="25.60" textLength="55.312" lengthAdjust="spacingAndGlyphs" letter-spacing="4.20" stroke="#000" stroke-width="0.60" stroke-linejoin="round">380</text>
<text transform="translate(1168.60 1289.58) scale(0.7800 1) rotate(0.04)" font-size="25.60" textLength="55.312" lengthAdjust="spacingAndGlyphs" letter-spacing="4.20" stroke="#000" stroke-width="0.60" stroke-linejoin="round">590</text>
<text transform="translate(1271.02 1289.58) scale(0.7520 1) rotate(0.04)" font-size="25.60" textLength="129.234" lengthAdjust="spacingAndGlyphs" letter-spacing="4.20" stroke="#000" stroke-width="0.60" stroke-linejoin="round">74,5/72°</text>
<text transform="translate(1448.64 1289.58) scale(0.7297 1) rotate(0.04)" font-size="25.60" textLength="81.062" lengthAdjust="spacingAndGlyphs" letter-spacing="4.20" stroke="#000" stroke-width="0.60" stroke-linejoin="round">69,5°</text>
<text transform="translate(1554.10 1289.58) scale(0.7800 1) rotate(0.04)" font-size="25.60" textLength="36.875" lengthAdjust="spacingAndGlyphs" letter-spacing="4.20" stroke="#000" stroke-width="0.60" stroke-linejoin="round">90</text>
<text transform="translate(1659.70 1289.58) scale(0.7800 1) rotate(0.04)" font-size="25.60" textLength="55.312" lengthAdjust="spacingAndGlyphs" letter-spacing="4.20" stroke="#000" stroke-width="0.60" stroke-linejoin="round">430</text>
<text transform="translate(1765.10 1289.58) scale(0.7800 1) rotate(0.04)" font-size="25.60" textLength="73.750" lengthAdjust="spacingAndGlyphs" letter-spacing="4.20" stroke="#000" stroke-width="0.60" stroke-linejoin="round">1092</text>
<text transform="translate(1870.50 1289.58) scale(0.7800 1) rotate(0.04)" font-size="25.60" textLength="55.312" lengthAdjust="spacingAndGlyphs" letter-spacing="4.20" stroke="#000" stroke-width="0.60" stroke-linejoin="round">594</text>
<text transform="translate(1975.90 1289.58) scale(0.7800 1) rotate(0.04)" font-size="25.60" textLength="55.312" lengthAdjust="spacingAndGlyphs" letter-spacing="4.20" stroke="#000" stroke-width="0.60" stroke-linejoin="round">425</text>
<text transform="translate(2081.20 1289.58) scale(0.7800 1) rotate(0.04)" font-size="25.60" textLength="55.312" lengthAdjust="spacingAndGlyphs" letter-spacing="4.20" stroke="#000" stroke-width="0.60" stroke-linejoin="round">761</text>
<text transform="translate(2185.90 1289.58) scale(0.7800 1) rotate(0.04)" font-size="25.60" textLength="36.875" lengthAdjust="spacingAndGlyphs" letter-spacing="4.20" stroke="#000" stroke-width="0.60" stroke-linejoin="round">70</text>
<text transform="translate(772.02 1327.48) scale(0.7627 1) rotate(0.04)" font-size="25.60" textLength="79.391" lengthAdjust="spacingAndGlyphs" letter-spacing="4.20" stroke="#000" stroke-width="0.60" stroke-linejoin="round">43cm</text>
<text transform="translate(845.19 1327.48) scale(0.9615 1) rotate(0.04)" font-size="25.60" stroke="#000" stroke-width="0.60" stroke-linejoin="round">/</text>
<text transform="translate(860.99 1327.48) scale(0.7800 1) rotate(0.04)" font-size="25.60" textLength="50.156" lengthAdjust="spacingAndGlyphs" letter-spacing="4.20" stroke="#000" stroke-width="0.60" stroke-linejoin="round">17&quot;</text>
<text transform="translate(919.99 1327.48) scale(0.9615 1) rotate(0.04)" font-size="25.60" stroke="#000" stroke-width="0.60" stroke-linejoin="round">/</text>
<text transform="translate(940.51 1327.48) scale(0.8736 1) rotate(0.04)" font-size="25.60" letter-spacing="1.00" stroke="#000" stroke-width="0.60" stroke-linejoin="round">M</text>
<text transform="translate(1063.10 1327.48) scale(0.7800 1) rotate(0.04)" font-size="25.60" textLength="55.312" lengthAdjust="spacingAndGlyphs" letter-spacing="4.20" stroke="#000" stroke-width="0.60" stroke-linejoin="round">430</text>
<text transform="translate(1168.60 1327.48) scale(0.7800 1) rotate(0.04)" font-size="25.60" textLength="55.312" lengthAdjust="spacingAndGlyphs" letter-spacing="4.20" stroke="#000" stroke-width="0.60" stroke-linejoin="round">610</text>
<text transform="translate(1271.02 1327.48) scale(0.7520 1) rotate(0.04)" font-size="25.60" textLength="129.234" lengthAdjust="spacingAndGlyphs" letter-spacing="4.20" stroke="#000" stroke-width="0.60" stroke-linejoin="round">74,5/72°</text>
<text transform="translate(1448.64 1327.48) scale(0.7297 1) rotate(0.04)" font-size="25.60" textLength="81.062" lengthAdjust="spacingAndGlyphs" letter-spacing="4.20" stroke="#000" stroke-width="0.60" stroke-linejoin="round">69,5°</text>
<text transform="translate(1554.10 1327.48) scale(0.7800 1) rotate(0.04)" font-size="25.60" textLength="55.312" lengthAdjust="spacingAndGlyphs" letter-spacing="4.20" stroke="#000" stroke-width="0.60" stroke-linejoin="round">100</text>
<text transform="translate(1659.70 1327.48) scale(0.7800 1) rotate(0.04)" font-size="25.60" textLength="55.312" lengthAdjust="spacingAndGlyphs" letter-spacing="4.20" stroke="#000" stroke-width="0.60" stroke-linejoin="round">430</text>
<text transform="translate(1765.10 1327.48) scale(0.7800 1) rotate(0.04)" font-size="25.60" textLength="69.938" lengthAdjust="spacingAndGlyphs" letter-spacing="4.20" stroke="#000" stroke-width="0.60" stroke-linejoin="round">1113</text>
<text transform="translate(1870.50 1327.48) scale(0.7800 1) rotate(0.04)" font-size="25.60" textLength="55.312" lengthAdjust="spacingAndGlyphs" letter-spacing="4.20" stroke="#000" stroke-width="0.60" stroke-linejoin="round">604</text>
<text transform="translate(1975.90 1327.48) scale(0.7800 1) rotate(0.04)" font-size="25.60" textLength="55.312" lengthAdjust="spacingAndGlyphs" letter-spacing="4.20" stroke="#000" stroke-width="0.60" stroke-linejoin="round">443</text>
<text transform="translate(2081.20 1327.48) scale(0.7800 1) rotate(0.04)" font-size="25.60" textLength="55.312" lengthAdjust="spacingAndGlyphs" letter-spacing="4.20" stroke="#000" stroke-width="0.60" stroke-linejoin="round">775</text>
<text transform="translate(2185.90 1327.48) scale(0.7800 1) rotate(0.04)" font-size="25.60" textLength="36.875" lengthAdjust="spacingAndGlyphs" letter-spacing="4.20" stroke="#000" stroke-width="0.60" stroke-linejoin="round">70</text>
<text transform="translate(772.02 1365.38) scale(0.7627 1) rotate(0.04)" font-size="25.60" textLength="79.391" lengthAdjust="spacingAndGlyphs" letter-spacing="4.20" stroke="#000" stroke-width="0.60" stroke-linejoin="round">48cm</text>
<text transform="translate(845.19 1365.38) scale(0.9615 1) rotate(0.04)" font-size="25.60" stroke="#000" stroke-width="0.60" stroke-linejoin="round">/</text>
<text transform="translate(860.99 1365.38) scale(0.7800 1) rotate(0.04)" font-size="25.60" textLength="50.156" lengthAdjust="spacingAndGlyphs" letter-spacing="4.20" stroke="#000" stroke-width="0.60" stroke-linejoin="round">19&quot;</text>
<text transform="translate(919.99 1365.38) scale(0.9615 1) rotate(0.04)" font-size="25.60" stroke="#000" stroke-width="0.60" stroke-linejoin="round">/</text>
<text transform="translate(941.07 1365.38) scale(0.7213 1) rotate(0.04)" font-size="25.60" letter-spacing="1.00" stroke="#000" stroke-width="0.60" stroke-linejoin="round">L</text>
<text transform="translate(1063.10 1365.38) scale(0.7800 1) rotate(0.04)" font-size="25.60" textLength="55.312" lengthAdjust="spacingAndGlyphs" letter-spacing="4.20" stroke="#000" stroke-width="0.60" stroke-linejoin="round">480</text>
<text transform="translate(1168.60 1365.38) scale(0.7800 1) rotate(0.04)" font-size="25.60" textLength="55.312" lengthAdjust="spacingAndGlyphs" letter-spacing="4.20" stroke="#000" stroke-width="0.60" stroke-linejoin="round">630</text>
<text transform="translate(1271.02 1365.38) scale(0.7520 1) rotate(0.04)" font-size="25.60" textLength="129.234" lengthAdjust="spacingAndGlyphs" letter-spacing="4.20" stroke="#000" stroke-width="0.60" stroke-linejoin="round">74,5/72°</text>
<text transform="translate(1448.64 1365.38) scale(0.7297 1) rotate(0.04)" font-size="25.60" textLength="81.062" lengthAdjust="spacingAndGlyphs" letter-spacing="4.20" stroke="#000" stroke-width="0.60" stroke-linejoin="round">69,5°</text>
<text transform="translate(1554.10 1365.38) scale(0.7800 1) rotate(0.04)" font-size="25.60" textLength="53.406" lengthAdjust="spacingAndGlyphs" letter-spacing="4.20" stroke="#000" stroke-width="0.60" stroke-linejoin="round">110</text>
<text transform="translate(1659.70 1365.38) scale(0.7800 1) rotate(0.04)" font-size="25.60" textLength="55.312" lengthAdjust="spacingAndGlyphs" letter-spacing="4.20" stroke="#000" stroke-width="0.60" stroke-linejoin="round">430</text>
<text transform="translate(1765.10 1365.38) scale(0.7800 1) rotate(0.04)" font-size="25.60" textLength="71.844" lengthAdjust="spacingAndGlyphs" letter-spacing="4.20" stroke="#000" stroke-width="0.60" stroke-linejoin="round">1134</text>
<text transform="translate(1870.50 1365.38) scale(0.7800 1) rotate(0.04)" font-size="25.60" textLength="55.312" lengthAdjust="spacingAndGlyphs" letter-spacing="4.20" stroke="#000" stroke-width="0.60" stroke-linejoin="round">613</text>
<text transform="translate(1975.90 1365.38) scale(0.7800 1) rotate(0.04)" font-size="25.60" textLength="55.312" lengthAdjust="spacingAndGlyphs" letter-spacing="4.20" stroke="#000" stroke-width="0.60" stroke-linejoin="round">460</text>
<text transform="translate(2081.20 1365.38) scale(0.7800 1) rotate(0.04)" font-size="25.60" textLength="55.312" lengthAdjust="spacingAndGlyphs" letter-spacing="4.20" stroke="#000" stroke-width="0.60" stroke-linejoin="round">803</text>
<text transform="translate(2185.90 1365.38) scale(0.7800 1) rotate(0.04)" font-size="25.60" textLength="36.875" lengthAdjust="spacingAndGlyphs" letter-spacing="4.20" stroke="#000" stroke-width="0.60" stroke-linejoin="round">70</text>
<text transform="translate(771.72 1403.28) scale(0.7669 1) rotate(0.04)" font-size="25.60" textLength="79.391" lengthAdjust="spacingAndGlyphs" letter-spacing="4.20" stroke="#000" stroke-width="0.60" stroke-linejoin="round">53cm</text>
<text transform="translate(845.19 1403.28) scale(0.9615 1) rotate(0.04)" font-size="25.60" stroke="#000" stroke-width="0.60" stroke-linejoin="round">/</text>
<text transform="translate(861.30 1403.28) scale(0.7800 1) rotate(0.04)" font-size="25.60" textLength="50.156" lengthAdjust="spacingAndGlyphs" letter-spacing="4.20" stroke="#000" stroke-width="0.60" stroke-linejoin="round">21&quot;</text>
<text transform="translate(919.99 1403.28) scale(0.9615 1) rotate(0.04)" font-size="25.60" stroke="#000" stroke-width="0.60" stroke-linejoin="round">/</text>
<text transform="translate(941.43 1403.28) scale(0.6996 1) rotate(0.04)" font-size="25.60" textLength="33.312" lengthAdjust="spacingAndGlyphs" letter-spacing="1.00" stroke="#000" stroke-width="0.60" stroke-linejoin="round">XL</text>
<text transform="translate(1063.10 1403.28) scale(0.7800 1) rotate(0.04)" font-size="25.60" textLength="55.312" lengthAdjust="spacingAndGlyphs" letter-spacing="4.20" stroke="#000" stroke-width="0.60" stroke-linejoin="round">530</text>
<text transform="translate(1168.60 1403.28) scale(0.7800 1) rotate(0.04)" font-size="25.60" textLength="55.312" lengthAdjust="spacingAndGlyphs" letter-spacing="4.20" stroke="#000" stroke-width="0.60" stroke-linejoin="round">650</text>
<text transform="translate(1271.02 1403.28) scale(0.7520 1) rotate(0.04)" font-size="25.60" textLength="129.234" lengthAdjust="spacingAndGlyphs" letter-spacing="4.20" stroke="#000" stroke-width="0.60" stroke-linejoin="round">74,5/72°</text>
<text transform="translate(1448.64 1403.28) scale(0.7297 1) rotate(0.04)" font-size="25.60" textLength="81.062" lengthAdjust="spacingAndGlyphs" letter-spacing="4.20" stroke="#000" stroke-width="0.60" stroke-linejoin="round">69,5°</text>
<text transform="translate(1554.10 1403.28) scale(0.7800 1) rotate(0.04)" font-size="25.60" textLength="55.312" lengthAdjust="spacingAndGlyphs" letter-spacing="4.20" stroke="#000" stroke-width="0.60" stroke-linejoin="round">120</text>
<text transform="translate(1659.70 1403.28) scale(0.7800 1) rotate(0.04)" font-size="25.60" textLength="55.312" lengthAdjust="spacingAndGlyphs" letter-spacing="4.20" stroke="#000" stroke-width="0.60" stroke-linejoin="round">430</text>
<text transform="translate(1765.10 1403.28) scale(0.7800 1) rotate(0.04)" font-size="25.60" textLength="71.844" lengthAdjust="spacingAndGlyphs" letter-spacing="4.20" stroke="#000" stroke-width="0.60" stroke-linejoin="round">1155</text>
<text transform="translate(1870.50 1403.28) scale(0.7800 1) rotate(0.04)" font-size="25.60" textLength="55.312" lengthAdjust="spacingAndGlyphs" letter-spacing="4.20" stroke="#000" stroke-width="0.60" stroke-linejoin="round">622</text>
<text transform="translate(1975.90 1403.28) scale(0.7800 1) rotate(0.04)" font-size="25.60" textLength="55.312" lengthAdjust="spacingAndGlyphs" letter-spacing="4.20" stroke="#000" stroke-width="0.60" stroke-linejoin="round">477</text>
<text transform="translate(2081.20 1403.28) scale(0.7800 1) rotate(0.04)" font-size="25.60" textLength="55.312" lengthAdjust="spacingAndGlyphs" letter-spacing="4.20" stroke="#000" stroke-width="0.60" stroke-linejoin="round">832</text>
<text transform="translate(2185.90 1403.28) scale(0.7800 1) rotate(0.04)" font-size="25.60" textLength="36.875" lengthAdjust="spacingAndGlyphs" letter-spacing="4.20" stroke="#000" stroke-width="0.60" stroke-linejoin="round">70</text>
<text transform="translate(37.92 1518.60) scale(0.8969 1) rotate(0.04)" font-size="30.00" textLength="144.609" lengthAdjust="spacingAndGlyphs" font-weight="700" letter-spacing="1.60">MYROON</text>
<text transform="translate(38.11 1556.20) scale(0.7972 1) rotate(0.04)" font-size="30.00" textLength="182.688" lengthAdjust="spacingAndGlyphs" font-weight="700" letter-spacing="1.60">ELITE, PRO</text>
<text transform="translate(771.72 1479.08) scale(0.7669 1) rotate(0.04)" font-size="25.60" textLength="79.391" lengthAdjust="spacingAndGlyphs" letter-spacing="4.20" stroke="#000" stroke-width="0.60" stroke-linejoin="round">38cm</text>
<text transform="translate(845.19 1479.08) scale(0.9615 1) rotate(0.04)" font-size="25.60" stroke="#000" stroke-width="0.60" stroke-linejoin="round">/</text>
<text transform="translate(860.99 1479.08) scale(0.7800 1) rotate(0.04)" font-size="25.60" textLength="50.156" lengthAdjust="spacingAndGlyphs" letter-spacing="4.20" stroke="#000" stroke-width="0.60" stroke-linejoin="round">15&quot;</text>
<text transform="translate(919.99 1479.08) scale(0.9615 1) rotate(0.04)" font-size="25.60" stroke="#000" stroke-width="0.60" stroke-linejoin="round">/</text>
<text transform="translate(941.63 1479.08) scale(0.7342 1) rotate(0.04)" font-size="25.60" letter-spacing="1.00" stroke="#000" stroke-width="0.60" stroke-linejoin="round">S</text>
<text transform="translate(1063.10 1479.08) scale(0.7800 1) rotate(0.04)" font-size="25.60" textLength="55.312" lengthAdjust="spacingAndGlyphs" letter-spacing="4.20" stroke="#000" stroke-width="0.60" stroke-linejoin="round">380</text>
<text transform="translate(1168.60 1479.08) scale(0.7800 1) rotate(0.04)" font-size="25.60" textLength="55.312" lengthAdjust="spacingAndGlyphs" letter-spacing="4.20" stroke="#000" stroke-width="0.60" stroke-linejoin="round">580</text>
<text transform="translate(1271.03 1479.08) scale(0.7417 1) rotate(0.04)" font-size="25.60" textLength="158.984" lengthAdjust="spacingAndGlyphs" letter-spacing="4.20" stroke="#000" stroke-width="0.60" stroke-linejoin="round">74,5/73,0°</text>
<text transform="translate(1448.64 1479.08) scale(0.7297 1) rotate(0.04)" font-size="25.60" textLength="81.062" lengthAdjust="spacingAndGlyphs" letter-spacing="4.20" stroke="#000" stroke-width="0.60" stroke-linejoin="round">71,0°</text>
<text transform="translate(1554.10 1479.08) scale(0.7800 1) rotate(0.04)" font-size="25.60" textLength="36.875" lengthAdjust="spacingAndGlyphs" letter-spacing="4.20" stroke="#000" stroke-width="0.60" stroke-linejoin="round">95</text>
<text transform="translate(1659.70 1479.08) scale(0.7800 1) rotate(0.04)" font-size="25.60" textLength="55.312" lengthAdjust="spacingAndGlyphs" letter-spacing="4.20" stroke="#000" stroke-width="0.60" stroke-linejoin="round">430</text>
<text transform="translate(1765.10 1479.08) scale(0.7800 1) rotate(0.04)" font-size="25.60" textLength="73.750" lengthAdjust="spacingAndGlyphs" letter-spacing="4.20" stroke="#000" stroke-width="0.60" stroke-linejoin="round">1074</text>
<text transform="translate(1870.50 1479.08) scale(0.7800 1) rotate(0.04)" font-size="25.60" textLength="55.312" lengthAdjust="spacingAndGlyphs" letter-spacing="4.20" stroke="#000" stroke-width="0.60" stroke-linejoin="round">599</text>
<text transform="translate(1975.90 1479.08) scale(0.7800 1) rotate(0.04)" font-size="25.60" textLength="55.312" lengthAdjust="spacingAndGlyphs" letter-spacing="4.20" stroke="#000" stroke-width="0.60" stroke-linejoin="round">414</text>
<text transform="translate(2081.20 1479.08) scale(0.7800 1) rotate(0.04)" font-size="25.60" textLength="55.312" lengthAdjust="spacingAndGlyphs" letter-spacing="4.20" stroke="#000" stroke-width="0.60" stroke-linejoin="round">761</text>
<text transform="translate(2185.90 1479.08) scale(0.7800 1) rotate(0.04)" font-size="25.60" textLength="36.875" lengthAdjust="spacingAndGlyphs" letter-spacing="4.20" stroke="#000" stroke-width="0.60" stroke-linejoin="round">70</text>
<text transform="translate(772.02 1516.98) scale(0.7627 1) rotate(0.04)" font-size="25.60" textLength="79.391" lengthAdjust="spacingAndGlyphs" letter-spacing="4.20" stroke="#000" stroke-width="0.60" stroke-linejoin="round">43cm</text>
<text transform="translate(845.19 1516.98) scale(0.9615 1) rotate(0.04)" font-size="25.60" stroke="#000" stroke-width="0.60" stroke-linejoin="round">/</text>
<text transform="translate(860.99 1516.98) scale(0.7800 1) rotate(0.04)" font-size="25.60" textLength="50.156" lengthAdjust="spacingAndGlyphs" letter-spacing="4.20" stroke="#000" stroke-width="0.60" stroke-linejoin="round">17&quot;</text>
<text transform="translate(919.99 1516.98) scale(0.9615 1) rotate(0.04)" font-size="25.60" stroke="#000" stroke-width="0.60" stroke-linejoin="round">/</text>
<text transform="translate(940.51 1516.98) scale(0.8736 1) rotate(0.04)" font-size="25.60" letter-spacing="1.00" stroke="#000" stroke-width="0.60" stroke-linejoin="round">M</text>
<text transform="translate(1063.10 1516.98) scale(0.7800 1) rotate(0.04)" font-size="25.60" textLength="55.312" lengthAdjust="spacingAndGlyphs" letter-spacing="4.20" stroke="#000" stroke-width="0.60" stroke-linejoin="round">430</text>
<text transform="translate(1168.60 1516.98) scale(0.7800 1) rotate(0.04)" font-size="25.60" textLength="55.312" lengthAdjust="spacingAndGlyphs" letter-spacing="4.20" stroke="#000" stroke-width="0.60" stroke-linejoin="round">600</text>
<text transform="translate(1271.03 1516.98) scale(0.7417 1) rotate(0.04)" font-size="25.60" textLength="158.984" lengthAdjust="spacingAndGlyphs" letter-spacing="4.20" stroke="#000" stroke-width="0.60" stroke-linejoin="round">74,5/73,0°</text>
<text transform="translate(1448.64 1516.98) scale(0.7297 1) rotate(0.04)" font-size="25.60" textLength="81.062" lengthAdjust="spacingAndGlyphs" letter-spacing="4.20" stroke="#000" stroke-width="0.60" stroke-linejoin="round">71,0°</text>
<text transform="translate(1554.10 1516.98) scale(0.7800 1) rotate(0.04)" font-size="25.60" textLength="55.312" lengthAdjust="spacingAndGlyphs" letter-spacing="4.20" stroke="#000" stroke-width="0.60" stroke-linejoin="round">105</text>
<text transform="translate(1659.70 1516.98) scale(0.7800 1) rotate(0.04)" font-size="25.60" textLength="55.312" lengthAdjust="spacingAndGlyphs" letter-spacing="4.20" stroke="#000" stroke-width="0.60" stroke-linejoin="round">430</text>
<text transform="translate(1765.10 1516.98) scale(0.7800 1) rotate(0.04)" font-size="25.60" textLength="73.750" lengthAdjust="spacingAndGlyphs" letter-spacing="4.20" stroke="#000" stroke-width="0.60" stroke-linejoin="round">1095</text>
<text transform="translate(1870.50 1516.98) scale(0.7800 1) rotate(0.04)" font-size="25.60" textLength="55.312" lengthAdjust="spacingAndGlyphs" letter-spacing="4.20" stroke="#000" stroke-width="0.60" stroke-linejoin="round">608</text>
<text transform="translate(1975.90 1516.98) scale(0.7800 1) rotate(0.04)" font-size="25.60" textLength="55.312" lengthAdjust="spacingAndGlyphs" letter-spacing="4.20" stroke="#000" stroke-width="0.60" stroke-linejoin="round">431</text>
<text transform="translate(2081.20 1516.98) scale(0.7800 1) rotate(0.04)" font-size="25.60" textLength="55.312" lengthAdjust="spacingAndGlyphs" letter-spacing="4.20" stroke="#000" stroke-width="0.60" stroke-linejoin="round">772</text>
<text transform="translate(2185.90 1516.98) scale(0.7800 1) rotate(0.04)" font-size="25.60" textLength="36.875" lengthAdjust="spacingAndGlyphs" letter-spacing="4.20" stroke="#000" stroke-width="0.60" stroke-linejoin="round">70</text>
<text transform="translate(772.02 1554.88) scale(0.7627 1) rotate(0.04)" font-size="25.60" textLength="79.391" lengthAdjust="spacingAndGlyphs" letter-spacing="4.20" stroke="#000" stroke-width="0.60" stroke-linejoin="round">48cm</text>
<text transform="translate(845.19 1554.88) scale(0.9615 1) rotate(0.04)" font-size="25.60" stroke="#000" stroke-width="0.60" stroke-linejoin="round">/</text>
<text transform="translate(860.99 1554.88) scale(0.7800 1) rotate(0.04)" font-size="25.60" textLength="50.156" lengthAdjust="spacingAndGlyphs" letter-spacing="4.20" stroke="#000" stroke-width="0.60" stroke-linejoin="round">19&quot;</text>
<text transform="translate(919.99 1554.88) scale(0.9615 1) rotate(0.04)" font-size="25.60" stroke="#000" stroke-width="0.60" stroke-linejoin="round">/</text>
<text transform="translate(941.07 1554.88) scale(0.7213 1) rotate(0.04)" font-size="25.60" letter-spacing="1.00" stroke="#000" stroke-width="0.60" stroke-linejoin="round">L</text>
<text transform="translate(1063.10 1554.88) scale(0.7800 1) rotate(0.04)" font-size="25.60" textLength="55.312" lengthAdjust="spacingAndGlyphs" letter-spacing="4.20" stroke="#000" stroke-width="0.60" stroke-linejoin="round">480</text>
<text transform="translate(1168.60 1554.88) scale(0.7800 1) rotate(0.04)" font-size="25.60" textLength="55.312" lengthAdjust="spacingAndGlyphs" letter-spacing="4.20" stroke="#000" stroke-width="0.60" stroke-linejoin="round">620</text>
<text transform="translate(1271.03 1554.88) scale(0.7417 1) rotate(0.04)" font-size="25.60" textLength="158.984" lengthAdjust="spacingAndGlyphs" letter-spacing="4.20" stroke="#000" stroke-width="0.60" stroke-linejoin="round">74,5/73,0°</text>
<text transform="translate(1448.64 1554.88) scale(0.7297 1) rotate(0.04)" font-size="25.60" textLength="81.062" lengthAdjust="spacingAndGlyphs" letter-spacing="4.20" stroke="#000" stroke-width="0.60" stroke-linejoin="round">71,0°</text>
<text transform="translate(1554.10 1554.88) scale(0.7800 1) rotate(0.04)" font-size="25.60" textLength="53.406" lengthAdjust="spacingAndGlyphs" letter-spacing="4.20" stroke="#000" stroke-width="0.60" stroke-linejoin="round">115</text>
<text transform="translate(1659.70 1554.88) scale(0.7800 1) rotate(0.04)" font-size="25.60" textLength="55.312" lengthAdjust="spacingAndGlyphs" letter-spacing="4.20" stroke="#000" stroke-width="0.60" stroke-linejoin="round">430</text>
<text transform="translate(1765.10 1554.88) scale(0.7800 1) rotate(0.04)" font-size="25.60" textLength="69.938" lengthAdjust="spacingAndGlyphs" letter-spacing="4.20" stroke="#000" stroke-width="0.60" stroke-linejoin="round">1116</text>
<text transform="translate(1870.50 1554.88) scale(0.7800 1) rotate(0.04)" font-size="25.60" textLength="55.312" lengthAdjust="spacingAndGlyphs" letter-spacing="4.20" stroke="#000" stroke-width="0.60" stroke-linejoin="round">618</text>
<text transform="translate(1975.90 1554.88) scale(0.7800 1) rotate(0.04)" font-size="25.60" textLength="55.312" lengthAdjust="spacingAndGlyphs" letter-spacing="4.20" stroke="#000" stroke-width="0.60" stroke-linejoin="round">449</text>
<text transform="translate(2081.20 1554.88) scale(0.7800 1) rotate(0.04)" font-size="25.60" textLength="55.312" lengthAdjust="spacingAndGlyphs" letter-spacing="4.20" stroke="#000" stroke-width="0.60" stroke-linejoin="round">803</text>
<text transform="translate(2185.90 1554.88) scale(0.7800 1) rotate(0.04)" font-size="25.60" textLength="36.875" lengthAdjust="spacingAndGlyphs" letter-spacing="4.20" stroke="#000" stroke-width="0.60" stroke-linejoin="round">70</text>
<text transform="translate(771.72 1592.78) scale(0.7669 1) rotate(0.04)" font-size="25.60" textLength="79.391" lengthAdjust="spacingAndGlyphs" letter-spacing="4.20" stroke="#000" stroke-width="0.60" stroke-linejoin="round">53cm</text>
<text transform="translate(845.19 1592.78) scale(0.9615 1) rotate(0.04)" font-size="25.60" stroke="#000" stroke-width="0.60" stroke-linejoin="round">/</text>
<text transform="translate(861.30 1592.78) scale(0.7800 1) rotate(0.04)" font-size="25.60" textLength="50.156" lengthAdjust="spacingAndGlyphs" letter-spacing="4.20" stroke="#000" stroke-width="0.60" stroke-linejoin="round">21&quot;</text>
<text transform="translate(919.99 1592.78) scale(0.9615 1) rotate(0.04)" font-size="25.60" stroke="#000" stroke-width="0.60" stroke-linejoin="round">/</text>
<text transform="translate(941.43 1592.78) scale(0.6996 1) rotate(0.04)" font-size="25.60" textLength="33.312" lengthAdjust="spacingAndGlyphs" letter-spacing="1.00" stroke="#000" stroke-width="0.60" stroke-linejoin="round">XL</text>
<text transform="translate(1063.10 1592.78) scale(0.7800 1) rotate(0.04)" font-size="25.60" textLength="55.312" lengthAdjust="spacingAndGlyphs" letter-spacing="4.20" stroke="#000" stroke-width="0.60" stroke-linejoin="round">530</text>
<text transform="translate(1168.60 1592.78) scale(0.7800 1) rotate(0.04)" font-size="25.60" textLength="55.312" lengthAdjust="spacingAndGlyphs" letter-spacing="4.20" stroke="#000" stroke-width="0.60" stroke-linejoin="round">640</text>
<text transform="translate(1271.03 1592.78) scale(0.7417 1) rotate(0.04)" font-size="25.60" textLength="158.984" lengthAdjust="spacingAndGlyphs" letter-spacing="4.20" stroke="#000" stroke-width="0.60" stroke-linejoin="round">74,5/73,0°</text>
<text transform="translate(1448.64 1592.78) scale(0.7297 1) rotate(0.04)" font-size="25.60" textLength="81.062" lengthAdjust="spacingAndGlyphs" letter-spacing="4.20" stroke="#000" stroke-width="0.60" stroke-linejoin="round">71,0°</text>
<text transform="translate(1554.10 1592.78) scale(0.7800 1) rotate(0.04)" font-size="25.60" textLength="55.312" lengthAdjust="spacingAndGlyphs" letter-spacing="4.20" stroke="#000" stroke-width="0.60" stroke-linejoin="round">125</text>
<text transform="translate(1659.70 1592.78) scale(0.7800 1) rotate(0.04)" font-size="25.60" textLength="55.312" lengthAdjust="spacingAndGlyphs" letter-spacing="4.20" stroke="#000" stroke-width="0.60" stroke-linejoin="round">430</text>
<text transform="translate(1765.10 1592.78) scale(0.7800 1) rotate(0.04)" font-size="25.60" textLength="71.844" lengthAdjust="spacingAndGlyphs" letter-spacing="4.20" stroke="#000" stroke-width="0.60" stroke-linejoin="round">1136</text>
<text transform="translate(1870.50 1592.78) scale(0.7800 1) rotate(0.04)" font-size="25.60" textLength="55.312" lengthAdjust="spacingAndGlyphs" letter-spacing="4.20" stroke="#000" stroke-width="0.60" stroke-linejoin="round">627</text>
<text transform="translate(1975.90 1592.78) scale(0.7800 1) rotate(0.04)" font-size="25.60" textLength="55.312" lengthAdjust="spacingAndGlyphs" letter-spacing="4.20" stroke="#000" stroke-width="0.60" stroke-linejoin="round">466</text>
<text transform="translate(2081.20 1592.78) scale(0.7800 1) rotate(0.04)" font-size="25.60" textLength="55.312" lengthAdjust="spacingAndGlyphs" letter-spacing="4.20" stroke="#000" stroke-width="0.60" stroke-linejoin="round">832</text>
<text transform="translate(2185.90 1592.78) scale(0.7800 1) rotate(0.04)" font-size="25.60" textLength="36.875" lengthAdjust="spacingAndGlyphs" letter-spacing="4.20" stroke="#000" stroke-width="0.60" stroke-linejoin="round">70</text>
<text transform="translate(38.42 1689.00) scale(0.8426 1) rotate(0.04)" font-size="30.00" textLength="107.422" lengthAdjust="spacingAndGlyphs" font-weight="700" letter-spacing="1.60">ULTRA</text>
<text transform="translate(37.87 1726.90) scale(0.9212 1) rotate(0.04)" font-size="30.00" textLength="196.016" lengthAdjust="spacingAndGlyphs" font-weight="700" letter-spacing="1.60">EVO DIMMIX</text>
<text transform="translate(772.02 1668.58) scale(0.7627 1) rotate(0.04)" font-size="25.60" textLength="79.391" lengthAdjust="spacingAndGlyphs" letter-spacing="4.20" stroke="#000" stroke-width="0.60" stroke-linejoin="round">43cm</text>
<text transform="translate(845.19 1668.58) scale(0.9615 1) rotate(0.04)" font-size="25.60" stroke="#000" stroke-width="0.60" stroke-linejoin="round">/</text>
<text transform="translate(860.99 1668.58) scale(0.7800 1) rotate(0.04)" font-size="25.60" textLength="50.156" lengthAdjust="spacingAndGlyphs" letter-spacing="4.20" stroke="#000" stroke-width="0.60" stroke-linejoin="round">17&quot;</text>
<text transform="translate(919.99 1668.58) scale(0.9615 1) rotate(0.04)" font-size="25.60" stroke="#000" stroke-width="0.60" stroke-linejoin="round">/</text>
<text transform="translate(940.51 1668.58) scale(0.8736 1) rotate(0.04)" font-size="25.60" letter-spacing="1.00" stroke="#000" stroke-width="0.60" stroke-linejoin="round">M</text>
<text transform="translate(1063.10 1668.58) scale(0.7800 1) rotate(0.04)" font-size="25.60" textLength="55.312" lengthAdjust="spacingAndGlyphs" letter-spacing="4.20" stroke="#000" stroke-width="0.60" stroke-linejoin="round">410</text>
<text transform="translate(1168.60 1668.58) scale(0.7800 1) rotate(0.04)" font-size="25.60" textLength="55.312" lengthAdjust="spacingAndGlyphs" letter-spacing="4.20" stroke="#000" stroke-width="0.60" stroke-linejoin="round">602</text>
<text transform="translate(1271.06 1668.58) scale(0.7137 1) rotate(0.04)" font-size="25.60" textLength="81.062" lengthAdjust="spacingAndGlyphs" letter-spacing="4.20" stroke="#000" stroke-width="0.60" stroke-linejoin="round">74,3°</text>
<text transform="translate(1448.64 1668.58) scale(0.7297 1) rotate(0.04)" font-size="25.60" textLength="81.062" lengthAdjust="spacingAndGlyphs" letter-spacing="4.20" stroke="#000" stroke-width="0.60" stroke-linejoin="round">65,8°</text>
<text transform="translate(1554.10 1668.58) scale(0.7800 1) rotate(0.04)" font-size="25.60" textLength="36.875" lengthAdjust="spacingAndGlyphs" letter-spacing="4.20" stroke="#000" stroke-width="0.60" stroke-linejoin="round">90</text>
<text transform="translate(1659.70 1668.58) scale(0.7800 1) rotate(0.04)" font-size="25.60" textLength="55.312" lengthAdjust="spacingAndGlyphs" letter-spacing="4.20" stroke="#000" stroke-width="0.60" stroke-linejoin="round">440</text>
<text transform="translate(1765.10 1668.58) scale(0.7800 1) rotate(0.04)" font-size="25.60" textLength="71.844" lengthAdjust="spacingAndGlyphs" letter-spacing="4.20" stroke="#000" stroke-width="0.60" stroke-linejoin="round">1163</text>
<text transform="translate(1870.50 1668.58) scale(0.7800 1) rotate(0.04)" font-size="25.60" textLength="55.312" lengthAdjust="spacingAndGlyphs" letter-spacing="4.20" stroke="#000" stroke-width="0.60" stroke-linejoin="round">590</text>
<text transform="translate(1975.90 1668.58) scale(0.7800 1) rotate(0.04)" font-size="25.60" textLength="55.312" lengthAdjust="spacingAndGlyphs" letter-spacing="4.20" stroke="#000" stroke-width="0.60" stroke-linejoin="round">443</text>
<text transform="translate(2081.20 1668.58) scale(0.7800 1) rotate(0.04)" font-size="25.60" textLength="55.312" lengthAdjust="spacingAndGlyphs" letter-spacing="4.20" stroke="#000" stroke-width="0.60" stroke-linejoin="round">733</text>
<text transform="translate(2185.90 1668.58) scale(0.7800 1) rotate(0.04)" font-size="25.60" textLength="36.875" lengthAdjust="spacingAndGlyphs" letter-spacing="4.20" stroke="#000" stroke-width="0.60" stroke-linejoin="round">60</text>
<text transform="translate(772.02 1706.48) scale(0.7627 1) rotate(0.04)" font-size="25.60" textLength="79.391" lengthAdjust="spacingAndGlyphs" letter-spacing="4.20" stroke="#000" stroke-width="0.60" stroke-linejoin="round">48cm</text>
<text transform="translate(845.19 1706.48) scale(0.9615 1) rotate(0.04)" font-size="25.60" stroke="#000" stroke-width="0.60" stroke-linejoin="round">/</text>
<text transform="translate(860.99 1706.48) scale(0.7800 1) rotate(0.04)" font-size="25.60" textLength="50.156" lengthAdjust="spacingAndGlyphs" letter-spacing="4.20" stroke="#000" stroke-width="0.60" stroke-linejoin="round">19&quot;</text>
<text transform="translate(919.99 1706.48) scale(0.9615 1) rotate(0.04)" font-size="25.60" stroke="#000" stroke-width="0.60" stroke-linejoin="round">/</text>
<text transform="translate(941.07 1706.48) scale(0.7213 1) rotate(0.04)" font-size="25.60" letter-spacing="1.00" stroke="#000" stroke-width="0.60" stroke-linejoin="round">L</text>
<text transform="translate(1063.10 1706.48) scale(0.7800 1) rotate(0.04)" font-size="25.60" textLength="55.312" lengthAdjust="spacingAndGlyphs" letter-spacing="4.20" stroke="#000" stroke-width="0.60" stroke-linejoin="round">460</text>
<text transform="translate(1168.60 1706.48) scale(0.7800 1) rotate(0.04)" font-size="25.60" textLength="55.312" lengthAdjust="spacingAndGlyphs" letter-spacing="4.20" stroke="#000" stroke-width="0.60" stroke-linejoin="round">622</text>
<text transform="translate(1271.06 1706.48) scale(0.7137 1) rotate(0.04)" font-size="25.60" textLength="81.062" lengthAdjust="spacingAndGlyphs" letter-spacing="4.20" stroke="#000" stroke-width="0.60" stroke-linejoin="round">74,3°</text>
<text transform="translate(1448.64 1706.48) scale(0.7297 1) rotate(0.04)" font-size="25.60" textLength="81.062" lengthAdjust="spacingAndGlyphs" letter-spacing="4.20" stroke="#000" stroke-width="0.60" stroke-linejoin="round">65,8°</text>
<text transform="translate(1554.10 1706.48) scale(0.7800 1) rotate(0.04)" font-size="25.60" textLength="55.312" lengthAdjust="spacingAndGlyphs" letter-spacing="4.20" stroke="#000" stroke-width="0.60" stroke-linejoin="round">105</text>
<text transform="translate(1659.70 1706.48) scale(0.7800 1) rotate(0.04)" font-size="25.60" textLength="55.312" lengthAdjust="spacingAndGlyphs" letter-spacing="4.20" stroke="#000" stroke-width="0.60" stroke-linejoin="round">440</text>
<text transform="translate(1765.10 1706.48) scale(0.7800 1) rotate(0.04)" font-size="25.60" textLength="71.844" lengthAdjust="spacingAndGlyphs" letter-spacing="4.20" stroke="#000" stroke-width="0.60" stroke-linejoin="round">1185</text>
<text transform="translate(1870.50 1706.48) scale(0.7800 1) rotate(0.04)" font-size="25.60" textLength="55.312" lengthAdjust="spacingAndGlyphs" letter-spacing="4.20" stroke="#000" stroke-width="0.60" stroke-linejoin="round">604</text>
<text transform="translate(1975.90 1706.48) scale(0.7800 1) rotate(0.04)" font-size="25.60" textLength="55.312" lengthAdjust="spacingAndGlyphs" letter-spacing="4.20" stroke="#000" stroke-width="0.60" stroke-linejoin="round">452</text>
<text transform="translate(2081.20 1706.48) scale(0.7800 1) rotate(0.04)" font-size="25.60" textLength="55.312" lengthAdjust="spacingAndGlyphs" letter-spacing="4.20" stroke="#000" stroke-width="0.60" stroke-linejoin="round">764</text>
<text transform="translate(2185.90 1706.48) scale(0.7800 1) rotate(0.04)" font-size="25.60" textLength="36.875" lengthAdjust="spacingAndGlyphs" letter-spacing="4.20" stroke="#000" stroke-width="0.60" stroke-linejoin="round">60</text>
<text transform="translate(771.72 1744.38) scale(0.7669 1) rotate(0.04)" font-size="25.60" textLength="79.391" lengthAdjust="spacingAndGlyphs" letter-spacing="4.20" stroke="#000" stroke-width="0.60" stroke-linejoin="round">53cm</text>
<text transform="translate(845.19 1744.38) scale(0.9615 1) rotate(0.04)" font-size="25.60" stroke="#000" stroke-width="0.60" stroke-linejoin="round">/</text>
<text transform="translate(861.30 1744.38) scale(0.7800 1) rotate(0.04)" font-size="25.60" textLength="50.156" lengthAdjust="spacingAndGlyphs" letter-spacing="4.20" stroke="#000" stroke-width="0.60" stroke-linejoin="round">21&quot;</text>
<text transform="translate(919.99 1744.38) scale(0.9615 1) rotate(0.04)" font-size="25.60" stroke="#000" stroke-width="0.60" stroke-linejoin="round">/</text>
<text transform="translate(941.43 1744.38) scale(0.6996 1) rotate(0.04)" font-size="25.60" textLength="33.312" lengthAdjust="spacingAndGlyphs" letter-spacing="1.00" stroke="#000" stroke-width="0.60" stroke-linejoin="round">XL</text>
<text transform="translate(1063.10 1744.38) scale(0.7800 1) rotate(0.04)" font-size="25.60" textLength="55.312" lengthAdjust="spacingAndGlyphs" letter-spacing="4.20" stroke="#000" stroke-width="0.60" stroke-linejoin="round">510</text>
<text transform="translate(1168.60 1744.38) scale(0.7800 1) rotate(0.04)" font-size="25.60" textLength="55.312" lengthAdjust="spacingAndGlyphs" letter-spacing="4.20" stroke="#000" stroke-width="0.60" stroke-linejoin="round">642</text>
<text transform="translate(1271.06 1744.38) scale(0.7137 1) rotate(0.04)" font-size="25.60" textLength="81.062" lengthAdjust="spacingAndGlyphs" letter-spacing="4.20" stroke="#000" stroke-width="0.60" stroke-linejoin="round">74,3°</text>
<text transform="translate(1448.64 1744.38) scale(0.7297 1) rotate(0.04)" font-size="25.60" textLength="81.062" lengthAdjust="spacingAndGlyphs" letter-spacing="4.20" stroke="#000" stroke-width="0.60" stroke-linejoin="round">65,8°</text>
<text transform="translate(1554.10 1744.38) scale(0.7800 1) rotate(0.04)" font-size="25.60" textLength="55.312" lengthAdjust="spacingAndGlyphs" letter-spacing="4.20" stroke="#000" stroke-width="0.60" stroke-linejoin="round">120</text>
<text transform="translate(1659.70 1744.38) scale(0.7800 1) rotate(0.04)" font-size="25.60" textLength="55.312" lengthAdjust="spacingAndGlyphs" letter-spacing="4.20" stroke="#000" stroke-width="0.60" stroke-linejoin="round">440</text>
<text transform="translate(1765.10 1744.38) scale(0.7800 1) rotate(0.04)" font-size="25.60" textLength="73.750" lengthAdjust="spacingAndGlyphs" letter-spacing="4.20" stroke="#000" stroke-width="0.60" stroke-linejoin="round">1208</text>
<text transform="translate(1870.50 1744.38) scale(0.7800 1) rotate(0.04)" font-size="25.60" textLength="55.312" lengthAdjust="spacingAndGlyphs" letter-spacing="4.20" stroke="#000" stroke-width="0.60" stroke-linejoin="round">618</text>
<text transform="translate(1975.90 1744.38) scale(0.7800 1) rotate(0.04)" font-size="25.60" textLength="55.312" lengthAdjust="spacingAndGlyphs" letter-spacing="4.20" stroke="#000" stroke-width="0.60" stroke-linejoin="round">468</text>
<text transform="translate(2081.20 1744.38) scale(0.7800 1) rotate(0.04)" font-size="25.60" textLength="55.312" lengthAdjust="spacingAndGlyphs" letter-spacing="4.20" stroke="#000" stroke-width="0.60" stroke-linejoin="round">796</text>
<text transform="translate(2185.90 1744.38) scale(0.7800 1) rotate(0.04)" font-size="25.60" textLength="36.875" lengthAdjust="spacingAndGlyphs" letter-spacing="4.20" stroke="#000" stroke-width="0.60" stroke-linejoin="round">60</text>
<text transform="translate(38.34 1877.60) scale(0.8985 1) rotate(0.04)" font-size="30.00" textLength="168.641" lengthAdjust="spacingAndGlyphs" font-weight="700" letter-spacing="1.60">ULTRA 29&quot;</text>
<text transform="translate(38.81 1915.90) scale(0.8475 1) rotate(0.04)" font-size="30.00" textLength="215.203" lengthAdjust="spacingAndGlyphs" font-weight="700" letter-spacing="1.60">CHICAGO 29&quot;</text>
<text transform="translate(771.72 1820.18) scale(0.7669 1) rotate(0.04)" font-size="25.60" textLength="79.391" lengthAdjust="spacingAndGlyphs" letter-spacing="4.20" stroke="#000" stroke-width="0.60" stroke-linejoin="round">38cm</text>
<text transform="translate(845.19 1820.18) scale(0.9615 1) rotate(0.04)" font-size="25.60" stroke="#000" stroke-width="0.60" stroke-linejoin="round">/</text>
<text transform="translate(860.99 1820.18) scale(0.7800 1) rotate(0.04)" font-size="25.60" textLength="50.156" lengthAdjust="spacingAndGlyphs" letter-spacing="4.20" stroke="#000" stroke-width="0.60" stroke-linejoin="round">15&quot;</text>
<text transform="translate(919.99 1820.18) scale(0.9615 1) rotate(0.04)" font-size="25.60" stroke="#000" stroke-width="0.60" stroke-linejoin="round">/</text>
<text transform="translate(941.63 1820.18) scale(0.7342 1) rotate(0.04)" font-size="25.60" letter-spacing="1.00" stroke="#000" stroke-width="0.60" stroke-linejoin="round">S</text>
<text transform="translate(1063.10 1820.18) scale(0.7800 1) rotate(0.04)" font-size="25.60" textLength="55.312" lengthAdjust="spacingAndGlyphs" letter-spacing="4.20" stroke="#000" stroke-width="0.60" stroke-linejoin="round">380</text>
<text transform="translate(1168.60 1820.18) scale(0.7800 1) rotate(0.04)" font-size="25.60" textLength="55.312" lengthAdjust="spacingAndGlyphs" letter-spacing="4.20" stroke="#000" stroke-width="0.60" stroke-linejoin="round">575</text>
<text transform="translate(1271.06 1820.18) scale(0.7137 1) rotate(0.04)" font-size="25.60" textLength="81.062" lengthAdjust="spacingAndGlyphs" letter-spacing="4.20" stroke="#000" stroke-width="0.60" stroke-linejoin="round">74,0°</text>
<text transform="translate(1448.64 1820.18) scale(0.7297 1) rotate(0.04)" font-size="25.60" textLength="81.062" lengthAdjust="spacingAndGlyphs" letter-spacing="4.20" stroke="#000" stroke-width="0.60" stroke-linejoin="round">69,0°</text>
<text transform="translate(1554.10 1820.18) scale(0.7800 1) rotate(0.04)" font-size="25.60" textLength="55.312" lengthAdjust="spacingAndGlyphs" letter-spacing="4.20" stroke="#000" stroke-width="0.60" stroke-linejoin="round">100</text>
<text transform="translate(1659.70 1820.18) scale(0.7800 1) rotate(0.04)" font-size="25.60" textLength="55.312" lengthAdjust="spacingAndGlyphs" letter-spacing="4.20" stroke="#000" stroke-width="0.60" stroke-linejoin="round">440</text>
<text transform="translate(1765.10 1820.18) scale(0.7800 1) rotate(0.04)" font-size="25.60" textLength="73.750" lengthAdjust="spacingAndGlyphs" letter-spacing="4.20" stroke="#000" stroke-width="0.60" stroke-linejoin="round">1088</text>
<text transform="translate(1870.50 1820.18) scale(0.7800 1) rotate(0.04)" font-size="25.60" textLength="55.312" lengthAdjust="spacingAndGlyphs" letter-spacing="4.20" stroke="#000" stroke-width="0.60" stroke-linejoin="round">605</text>
<text transform="translate(1975.90 1820.18) scale(0.7800 1) rotate(0.04)" font-size="25.60" textLength="55.312" lengthAdjust="spacingAndGlyphs" letter-spacing="4.20" stroke="#000" stroke-width="0.60" stroke-linejoin="round">401</text>
<text transform="translate(2081.20 1820.18) scale(0.7800 1) rotate(0.04)" font-size="25.60" textLength="55.312" lengthAdjust="spacingAndGlyphs" letter-spacing="4.20" stroke="#000" stroke-width="0.60" stroke-linejoin="round">762</text>
<text transform="translate(2185.90 1820.18) scale(0.7800 1) rotate(0.04)" font-size="25.60" textLength="36.875" lengthAdjust="spacingAndGlyphs" letter-spacing="4.20" stroke="#000" stroke-width="0.60" stroke-linejoin="round">70</text>
<text transform="translate(772.02 1858.08) scale(0.7627 1) rotate(0.04)" font-size="25.60" textLength="79.391" lengthAdjust="spacingAndGlyphs" letter-spacing="4.20" stroke="#000" stroke-width="0.60" stroke-linejoin="round">43cm</text>
<text transform="translate(845.19 1858.08) scale(0.9615 1) rotate(0.04)" font-size="25.60" stroke="#000" stroke-width="0.60" stroke-linejoin="round">/</text>
<text transform="translate(860.99 1858.08) scale(0.7800 1) rotate(0.04)" font-size="25.60" textLength="50.156" lengthAdjust="spacingAndGlyphs" letter-spacing="4.20" stroke="#000" stroke-width="0.60" stroke-linejoin="round">17&quot;</text>
<text transform="translate(919.99 1858.08) scale(0.9615 1) rotate(0.04)" font-size="25.60" stroke="#000" stroke-width="0.60" stroke-linejoin="round">/</text>
<text transform="translate(940.51 1858.08) scale(0.8736 1) rotate(0.04)" font-size="25.60" letter-spacing="1.00" stroke="#000" stroke-width="0.60" stroke-linejoin="round">M</text>
<text transform="translate(1063.10 1858.08) scale(0.7800 1) rotate(0.04)" font-size="25.60" textLength="55.312" lengthAdjust="spacingAndGlyphs" letter-spacing="4.20" stroke="#000" stroke-width="0.60" stroke-linejoin="round">430</text>
<text transform="translate(1168.60 1858.08) scale(0.7800 1) rotate(0.04)" font-size="25.60" textLength="55.312" lengthAdjust="spacingAndGlyphs" letter-spacing="4.20" stroke="#000" stroke-width="0.60" stroke-linejoin="round">595</text>
<text transform="translate(1271.06 1858.08) scale(0.7137 1) rotate(0.04)" font-size="25.60" textLength="81.062" lengthAdjust="spacingAndGlyphs" letter-spacing="4.20" stroke="#000" stroke-width="0.60" stroke-linejoin="round">74,0°</text>
<text transform="translate(1448.64 1858.08) scale(0.7297 1) rotate(0.04)" font-size="25.60" textLength="81.062" lengthAdjust="spacingAndGlyphs" letter-spacing="4.20" stroke="#000" stroke-width="0.60" stroke-linejoin="round">69,0°</text>
<text transform="translate(1554.10 1858.08) scale(0.7800 1) rotate(0.04)" font-size="25.60" textLength="53.406" lengthAdjust="spacingAndGlyphs" letter-spacing="4.20" stroke="#000" stroke-width="0.60" stroke-linejoin="round">110</text>
<text transform="translate(1659.70 1858.08) scale(0.7800 1) rotate(0.04)" font-size="25.60" textLength="55.312" lengthAdjust="spacingAndGlyphs" letter-spacing="4.20" stroke="#000" stroke-width="0.60" stroke-linejoin="round">440</text>
<text transform="translate(1765.10 1858.08) scale(0.7800 1) rotate(0.04)" font-size="25.60" textLength="71.844" lengthAdjust="spacingAndGlyphs" letter-spacing="4.20" stroke="#000" stroke-width="0.60" stroke-linejoin="round">1109</text>
<text transform="translate(1870.50 1858.08) scale(0.7800 1) rotate(0.04)" font-size="25.60" textLength="55.312" lengthAdjust="spacingAndGlyphs" letter-spacing="4.20" stroke="#000" stroke-width="0.60" stroke-linejoin="round">614</text>
<text transform="translate(1975.90 1858.08) scale(0.7800 1) rotate(0.04)" font-size="25.60" textLength="55.312" lengthAdjust="spacingAndGlyphs" letter-spacing="4.20" stroke="#000" stroke-width="0.60" stroke-linejoin="round">419</text>
<text transform="translate(2081.20 1858.08) scale(0.7800 1) rotate(0.04)" font-size="25.60" textLength="55.312" lengthAdjust="spacingAndGlyphs" letter-spacing="4.20" stroke="#000" stroke-width="0.60" stroke-linejoin="round">769</text>
<text transform="translate(2185.90 1858.08) scale(0.7800 1) rotate(0.04)" font-size="25.60" textLength="36.875" lengthAdjust="spacingAndGlyphs" letter-spacing="4.20" stroke="#000" stroke-width="0.60" stroke-linejoin="round">70</text>
<text transform="translate(772.02 1895.98) scale(0.7627 1) rotate(0.04)" font-size="25.60" textLength="79.391" lengthAdjust="spacingAndGlyphs" letter-spacing="4.20" stroke="#000" stroke-width="0.60" stroke-linejoin="round">48cm</text>
<text transform="translate(845.19 1895.98) scale(0.9615 1) rotate(0.04)" font-size="25.60" stroke="#000" stroke-width="0.60" stroke-linejoin="round">/</text>
<text transform="translate(860.99 1895.98) scale(0.7800 1) rotate(0.04)" font-size="25.60" textLength="50.156" lengthAdjust="spacingAndGlyphs" letter-spacing="4.20" stroke="#000" stroke-width="0.60" stroke-linejoin="round">19&quot;</text>
<text transform="translate(919.99 1895.98) scale(0.9615 1) rotate(0.04)" font-size="25.60" stroke="#000" stroke-width="0.60" stroke-linejoin="round">/</text>
<text transform="translate(941.07 1895.98) scale(0.7213 1) rotate(0.04)" font-size="25.60" letter-spacing="1.00" stroke="#000" stroke-width="0.60" stroke-linejoin="round">L</text>
<text transform="translate(1063.10 1895.98) scale(0.7800 1) rotate(0.04)" font-size="25.60" textLength="55.312" lengthAdjust="spacingAndGlyphs" letter-spacing="4.20" stroke="#000" stroke-width="0.60" stroke-linejoin="round">480</text>
<text transform="translate(1168.60 1895.98) scale(0.7800 1) rotate(0.04)" font-size="25.60" textLength="55.312" lengthAdjust="spacingAndGlyphs" letter-spacing="4.20" stroke="#000" stroke-width="0.60" stroke-linejoin="round">615</text>
<text transform="translate(1271.06 1895.98) scale(0.7137 1) rotate(0.04)" font-size="25.60" textLength="81.062" lengthAdjust="spacingAndGlyphs" letter-spacing="4.20" stroke="#000" stroke-width="0.60" stroke-linejoin="round">74,0°</text>
<text transform="translate(1448.64 1895.98) scale(0.7297 1) rotate(0.04)" font-size="25.60" textLength="81.062" lengthAdjust="spacingAndGlyphs" letter-spacing="4.20" stroke="#000" stroke-width="0.60" stroke-linejoin="round">69,0°</text>
<text transform="translate(1554.10 1895.98) scale(0.7800 1) rotate(0.04)" font-size="25.60" textLength="55.312" lengthAdjust="spacingAndGlyphs" letter-spacing="4.20" stroke="#000" stroke-width="0.60" stroke-linejoin="round">125</text>
<text transform="translate(1659.70 1895.98) scale(0.7800 1) rotate(0.04)" font-size="25.60" textLength="55.312" lengthAdjust="spacingAndGlyphs" letter-spacing="4.20" stroke="#000" stroke-width="0.60" stroke-linejoin="round">440</text>
<text transform="translate(1765.10 1895.98) scale(0.7800 1) rotate(0.04)" font-size="25.60" textLength="71.844" lengthAdjust="spacingAndGlyphs" letter-spacing="4.20" stroke="#000" stroke-width="0.60" stroke-linejoin="round">1131</text>
<text transform="translate(1870.50 1895.98) scale(0.7800 1) rotate(0.04)" font-size="25.60" textLength="55.312" lengthAdjust="spacingAndGlyphs" letter-spacing="4.20" stroke="#000" stroke-width="0.60" stroke-linejoin="round">629</text>
<text transform="translate(1975.90 1895.98) scale(0.7800 1) rotate(0.04)" font-size="25.60" textLength="55.312" lengthAdjust="spacingAndGlyphs" letter-spacing="4.20" stroke="#000" stroke-width="0.60" stroke-linejoin="round">435</text>
<text transform="translate(2081.20 1895.98) scale(0.7800 1) rotate(0.04)" font-size="25.60" textLength="55.312" lengthAdjust="spacingAndGlyphs" letter-spacing="4.20" stroke="#000" stroke-width="0.60" stroke-linejoin="round">799</text>
<text transform="translate(2185.90 1895.98) scale(0.7800 1) rotate(0.04)" font-size="25.60" textLength="36.875" lengthAdjust="spacingAndGlyphs" letter-spacing="4.20" stroke="#000" stroke-width="0.60" stroke-linejoin="round">70</text>
<text transform="translate(771.72 1933.88) scale(0.7669 1) rotate(0.04)" font-size="25.60" textLength="79.391" lengthAdjust="spacingAndGlyphs" letter-spacing="4.20" stroke="#000" stroke-width="0.60" stroke-linejoin="round">53cm</text>
<text transform="translate(845.19 1933.88) scale(0.9615 1) rotate(0.04)" font-size="25.60" stroke="#000" stroke-width="0.60" stroke-linejoin="round">/</text>
<text transform="translate(861.30 1933.88) scale(0.7800 1) rotate(0.04)" font-size="25.60" textLength="50.156" lengthAdjust="spacingAndGlyphs" letter-spacing="4.20" stroke="#000" stroke-width="0.60" stroke-linejoin="round">21&quot;</text>
<text transform="translate(919.99 1933.88) scale(0.9615 1) rotate(0.04)" font-size="25.60" stroke="#000" stroke-width="0.60" stroke-linejoin="round">/</text>
<text transform="translate(941.43 1933.88) scale(0.6996 1) rotate(0.04)" font-size="25.60" textLength="33.312" lengthAdjust="spacingAndGlyphs" letter-spacing="1.00" stroke="#000" stroke-width="0.60" stroke-linejoin="round">XL</text>
<text transform="translate(1063.10 1933.88) scale(0.7800 1) rotate(0.04)" font-size="25.60" textLength="55.312" lengthAdjust="spacingAndGlyphs" letter-spacing="4.20" stroke="#000" stroke-width="0.60" stroke-linejoin="round">530</text>
<text transform="translate(1168.60 1933.88) scale(0.7800 1) rotate(0.04)" font-size="25.60" textLength="55.312" lengthAdjust="spacingAndGlyphs" letter-spacing="4.20" stroke="#000" stroke-width="0.60" stroke-linejoin="round">635</text>
<text transform="translate(1271.06 1933.88) scale(0.7137 1) rotate(0.04)" font-size="25.60" textLength="81.062" lengthAdjust="spacingAndGlyphs" letter-spacing="4.20" stroke="#000" stroke-width="0.60" stroke-linejoin="round">74,0°</text>
<text transform="translate(1448.64 1933.88) scale(0.7297 1) rotate(0.04)" font-size="25.60" textLength="81.062" lengthAdjust="spacingAndGlyphs" letter-spacing="4.20" stroke="#000" stroke-width="0.60" stroke-linejoin="round">69,0°</text>
<text transform="translate(1554.10 1933.88) scale(0.7800 1) rotate(0.04)" font-size="25.60" textLength="55.312" lengthAdjust="spacingAndGlyphs" letter-spacing="4.20" stroke="#000" stroke-width="0.60" stroke-linejoin="round">140</text>
<text transform="translate(1659.70 1933.88) scale(0.7800 1) rotate(0.04)" font-size="25.60" textLength="55.312" lengthAdjust="spacingAndGlyphs" letter-spacing="4.20" stroke="#000" stroke-width="0.60" stroke-linejoin="round">440</text>
<text transform="translate(1765.10 1933.88) scale(0.7800 1) rotate(0.04)" font-size="25.60" textLength="71.844" lengthAdjust="spacingAndGlyphs" letter-spacing="4.20" stroke="#000" stroke-width="0.60" stroke-linejoin="round">1152</text>
<text transform="translate(1870.50 1933.88) scale(0.7800 1) rotate(0.04)" font-size="25.60" textLength="55.312" lengthAdjust="spacingAndGlyphs" letter-spacing="4.20" stroke="#000" stroke-width="0.60" stroke-linejoin="round">642</text>
<text transform="translate(1975.90 1933.88) scale(0.7800 1) rotate(0.04)" font-size="25.60" textLength="55.312" lengthAdjust="spacingAndGlyphs" letter-spacing="4.20" stroke="#000" stroke-width="0.60" stroke-linejoin="round">451</text>
<text transform="translate(2081.20 1933.88) scale(0.7800 1) rotate(0.04)" font-size="25.60" textLength="55.312" lengthAdjust="spacingAndGlyphs" letter-spacing="4.20" stroke="#000" stroke-width="0.60" stroke-linejoin="round">831</text>
<text transform="translate(2185.90 1933.88) scale(0.7800 1) rotate(0.04)" font-size="25.60" textLength="36.875" lengthAdjust="spacingAndGlyphs" letter-spacing="4.20" stroke="#000" stroke-width="0.60" stroke-linejoin="round">70</text>
<text transform="translate(771.72 1971.78) scale(0.7669 1) rotate(0.04)" font-size="25.60" textLength="79.391" lengthAdjust="spacingAndGlyphs" letter-spacing="4.20" stroke="#000" stroke-width="0.60" stroke-linejoin="round">57cm</text>
<text transform="translate(845.19 1971.78) scale(0.9615 1) rotate(0.04)" font-size="25.60" stroke="#000" stroke-width="0.60" stroke-linejoin="round">/</text>
<text transform="translate(861.30 1971.78) scale(0.7800 1) rotate(0.04)" font-size="25.60" textLength="79.906" lengthAdjust="spacingAndGlyphs" letter-spacing="4.20" stroke="#000" stroke-width="0.60" stroke-linejoin="round">22,5&quot;</text>
<text transform="translate(919.99 1971.78) scale(0.9615 1) rotate(0.04)" font-size="25.60" stroke="#000" stroke-width="0.60" stroke-linejoin="round">/</text>
<text transform="translate(941.33 1971.78) scale(0.7007 1) rotate(0.04)" font-size="25.60" textLength="51.391" lengthAdjust="spacingAndGlyphs" letter-spacing="1.00" stroke="#000" stroke-width="0.60" stroke-linejoin="round">XXL</text>
<text transform="translate(1063.10 1971.78) scale(0.7800 1) rotate(0.04)" font-size="25.60" textLength="55.312" lengthAdjust="spacingAndGlyphs" letter-spacing="4.20" stroke="#000" stroke-width="0.60" stroke-linejoin="round">570</text>
<text transform="translate(1168.60 1971.78) scale(0.7800 1) rotate(0.04)" font-size="25.60" textLength="55.312" lengthAdjust="spacingAndGlyphs" letter-spacing="4.20" stroke="#000" stroke-width="0.60" stroke-linejoin="round">650</text>
<text transform="translate(1271.06 1971.78) scale(0.7137 1) rotate(0.04)" font-size="25.60" textLength="81.062" lengthAdjust="spacingAndGlyphs" letter-spacing="4.20" stroke="#000" stroke-width="0.60" stroke-linejoin="round">74,0°</text>
<text transform="translate(1448.64 1971.78) scale(0.7297 1) rotate(0.04)" font-size="25.60" textLength="81.062" lengthAdjust="spacingAndGlyphs" letter-spacing="4.20" stroke="#000" stroke-width="0.60" stroke-linejoin="round">69,0°</text>
<text transform="translate(1554.10 1971.78) scale(0.7800 1) rotate(0.04)" font-size="25.60" textLength="55.312" lengthAdjust="spacingAndGlyphs" letter-spacing="4.20" stroke="#000" stroke-width="0.60" stroke-linejoin="round">160</text>
<text transform="translate(1659.70 1971.78) scale(0.7800 1) rotate(0.04)" font-size="25.60" textLength="55.312" lengthAdjust="spacingAndGlyphs" letter-spacing="4.20" stroke="#000" stroke-width="0.60" stroke-linejoin="round">440</text>
<text transform="translate(1765.10 1971.78) scale(0.7800 1) rotate(0.04)" font-size="25.60" textLength="71.844" lengthAdjust="spacingAndGlyphs" letter-spacing="4.20" stroke="#000" stroke-width="0.60" stroke-linejoin="round">1169</text>
<text transform="translate(1870.50 1971.78) scale(0.7800 1) rotate(0.04)" font-size="25.60" textLength="55.312" lengthAdjust="spacingAndGlyphs" letter-spacing="4.20" stroke="#000" stroke-width="0.60" stroke-linejoin="round">661</text>
<text transform="translate(1975.90 1971.78) scale(0.7800 1) rotate(0.04)" font-size="25.60" textLength="55.312" lengthAdjust="spacingAndGlyphs" letter-spacing="4.20" stroke="#000" stroke-width="0.60" stroke-linejoin="round">460</text>
<text transform="translate(2081.20 1971.78) scale(0.7800 1) rotate(0.04)" font-size="25.60" textLength="55.312" lengthAdjust="spacingAndGlyphs" letter-spacing="4.20" stroke="#000" stroke-width="0.60" stroke-linejoin="round">860</text>
<text transform="translate(2185.90 1971.78) scale(0.7800 1) rotate(0.04)" font-size="25.60" textLength="36.875" lengthAdjust="spacingAndGlyphs" letter-spacing="4.20" stroke="#000" stroke-width="0.60" stroke-linejoin="round">70</text>
<text transform="translate(38.81 2124.80) scale(0.8428 1) rotate(0.04)" font-size="30.00" textLength="215.203" lengthAdjust="spacingAndGlyphs" font-weight="700" letter-spacing="1.60">CHICAGO 27&quot;</text>
<text transform="translate(771.72 2047.58) scale(0.7669 1) rotate(0.04)" font-size="25.60" textLength="79.391" lengthAdjust="spacingAndGlyphs" letter-spacing="4.20" stroke="#000" stroke-width="0.60" stroke-linejoin="round">32cm</text>
<text transform="translate(845.19 2047.58) scale(0.9615 1) rotate(0.04)" font-size="25.60" stroke="#000" stroke-width="0.60" stroke-linejoin="round">/</text>
<text transform="translate(860.99 2047.58) scale(0.7800 1) rotate(0.04)" font-size="25.60" textLength="79.906" lengthAdjust="spacingAndGlyphs" letter-spacing="4.20" stroke="#000" stroke-width="0.60" stroke-linejoin="round">12,5&quot;</text>
<text transform="translate(919.99 2047.58) scale(0.9615 1) rotate(0.04)" font-size="25.60" stroke="#000" stroke-width="0.60" stroke-linejoin="round">/</text>
<text transform="translate(941.43 2047.58) scale(0.6944 1) rotate(0.04)" font-size="25.60" textLength="36.156" lengthAdjust="spacingAndGlyphs" letter-spacing="1.00" stroke="#000" stroke-width="0.60" stroke-linejoin="round">XS</text>
<text transform="translate(1063.10 2047.58) scale(0.7800 1) rotate(0.04)" font-size="25.60" textLength="55.312" lengthAdjust="spacingAndGlyphs" letter-spacing="4.20" stroke="#000" stroke-width="0.60" stroke-linejoin="round">320</text>
<text transform="translate(1168.60 2047.58) scale(0.7800 1) rotate(0.04)" font-size="25.60" textLength="55.312" lengthAdjust="spacingAndGlyphs" letter-spacing="4.20" stroke="#000" stroke-width="0.60" stroke-linejoin="round">560</text>
<text transform="translate(1271.06 2047.58) scale(0.7137 1) rotate(0.04)" font-size="25.60" textLength="81.062" lengthAdjust="spacingAndGlyphs" letter-spacing="4.20" stroke="#000" stroke-width="0.60" stroke-linejoin="round">74,0°</text>
<text transform="translate(1448.64 2047.58) scale(0.7297 1) rotate(0.04)" font-size="25.60" textLength="81.062" lengthAdjust="spacingAndGlyphs" letter-spacing="4.20" stroke="#000" stroke-width="0.60" stroke-linejoin="round">68,5°</text>
<text transform="translate(1554.10 2047.58) scale(0.7800 1) rotate(0.04)" font-size="25.60" textLength="55.312" lengthAdjust="spacingAndGlyphs" letter-spacing="4.20" stroke="#000" stroke-width="0.60" stroke-linejoin="round">100</text>
<text transform="translate(1659.70 2047.58) scale(0.7800 1) rotate(0.04)" font-size="25.60" textLength="55.312" lengthAdjust="spacingAndGlyphs" letter-spacing="4.20" stroke="#000" stroke-width="0.60" stroke-linejoin="round">435</text>
<text transform="translate(1765.10 2047.58) scale(0.7800 1) rotate(0.04)" font-size="25.60" textLength="73.750" lengthAdjust="spacingAndGlyphs" letter-spacing="4.20" stroke="#000" stroke-width="0.60" stroke-linejoin="round">1081</text>
<text transform="translate(1870.50 2047.58) scale(0.7800 1) rotate(0.04)" font-size="25.60" textLength="55.312" lengthAdjust="spacingAndGlyphs" letter-spacing="4.20" stroke="#000" stroke-width="0.60" stroke-linejoin="round">545</text>
<text transform="translate(1975.90 2047.58) scale(0.7800 1) rotate(0.04)" font-size="25.60" textLength="55.312" lengthAdjust="spacingAndGlyphs" letter-spacing="4.20" stroke="#000" stroke-width="0.60" stroke-linejoin="round">404</text>
<text transform="translate(2081.20 2047.58) scale(0.7800 1) rotate(0.04)" font-size="25.60" textLength="55.312" lengthAdjust="spacingAndGlyphs" letter-spacing="4.20" stroke="#000" stroke-width="0.60" stroke-linejoin="round">710</text>
<text transform="translate(2185.90 2047.58) scale(0.7800 1) rotate(0.04)" font-size="25.60" textLength="36.875" lengthAdjust="spacingAndGlyphs" letter-spacing="4.20" stroke="#000" stroke-width="0.60" stroke-linejoin="round">45</text>
<text transform="translate(771.72 2085.48) scale(0.7669 1) rotate(0.04)" font-size="25.60" textLength="79.391" lengthAdjust="spacingAndGlyphs" letter-spacing="4.20" stroke="#000" stroke-width="0.60" stroke-linejoin="round">38cm</text>
<text transform="translate(845.19 2085.48) scale(0.9615 1) rotate(0.04)" font-size="25.60" stroke="#000" stroke-width="0.60" stroke-linejoin="round">/</text>
<text transform="translate(860.99 2085.48) scale(0.7800 1) rotate(0.04)" font-size="25.60" textLength="50.156" lengthAdjust="spacingAndGlyphs" letter-spacing="4.20" stroke="#000" stroke-width="0.60" stroke-linejoin="round">15&quot;</text>
<text transform="translate(919.99 2085.48) scale(0.9615 1) rotate(0.04)" font-size="25.60" stroke="#000" stroke-width="0.60" stroke-linejoin="round">/</text>
<text transform="translate(941.63 2085.48) scale(0.7342 1) rotate(0.04)" font-size="25.60" letter-spacing="1.00" stroke="#000" stroke-width="0.60" stroke-linejoin="round">S</text>
<text transform="translate(1063.10 2085.48) scale(0.7800 1) rotate(0.04)" font-size="25.60" textLength="55.312" lengthAdjust="spacingAndGlyphs" letter-spacing="4.20" stroke="#000" stroke-width="0.60" stroke-linejoin="round">380</text>
<text transform="translate(1168.60 2085.48) scale(0.7800 1) rotate(0.04)" font-size="25.60" textLength="55.312" lengthAdjust="spacingAndGlyphs" letter-spacing="4.20" stroke="#000" stroke-width="0.60" stroke-linejoin="round">575</text>
<text transform="translate(1271.06 2085.48) scale(0.7137 1) rotate(0.04)" font-size="25.60" textLength="81.062" lengthAdjust="spacingAndGlyphs" letter-spacing="4.20" stroke="#000" stroke-width="0.60" stroke-linejoin="round">74,0°</text>
<text transform="translate(1448.64 2085.48) scale(0.7297 1) rotate(0.04)" font-size="25.60" textLength="81.062" lengthAdjust="spacingAndGlyphs" letter-spacing="4.20" stroke="#000" stroke-width="0.60" stroke-linejoin="round">68,5°</text>
<text transform="translate(1554.10 2085.48) scale(0.7800 1) rotate(0.04)" font-size="25.60" textLength="53.406" lengthAdjust="spacingAndGlyphs" letter-spacing="4.20" stroke="#000" stroke-width="0.60" stroke-linejoin="round">110</text>
<text transform="translate(1659.70 2085.48) scale(0.7800 1) rotate(0.04)" font-size="25.60" textLength="55.312" lengthAdjust="spacingAndGlyphs" letter-spacing="4.20" stroke="#000" stroke-width="0.60" stroke-linejoin="round">435</text>
<text transform="translate(1765.10 2085.48) scale(0.7800 1) rotate(0.04)" font-size="25.60" textLength="73.750" lengthAdjust="spacingAndGlyphs" letter-spacing="4.20" stroke="#000" stroke-width="0.60" stroke-linejoin="round">1097</text>
<text transform="translate(1870.50 2085.48) scale(0.7800 1) rotate(0.04)" font-size="25.60" textLength="55.312" lengthAdjust="spacingAndGlyphs" letter-spacing="4.20" stroke="#000" stroke-width="0.60" stroke-linejoin="round">555</text>
<text transform="translate(1975.90 2085.48) scale(0.7800 1) rotate(0.04)" font-size="25.60" textLength="55.312" lengthAdjust="spacingAndGlyphs" letter-spacing="4.20" stroke="#000" stroke-width="0.60" stroke-linejoin="round">416</text>
<text transform="translate(2081.20 2085.48) scale(0.7800 1) rotate(0.04)" font-size="25.60" textLength="55.312" lengthAdjust="spacingAndGlyphs" letter-spacing="4.20" stroke="#000" stroke-width="0.60" stroke-linejoin="round">717</text>
<text transform="translate(2185.90 2085.48) scale(0.7800 1) rotate(0.04)" font-size="25.60" textLength="36.875" lengthAdjust="spacingAndGlyphs" letter-spacing="4.20" stroke="#000" stroke-width="0.60" stroke-linejoin="round">45</text>
<text transform="translate(772.02 2123.38) scale(0.7627 1) rotate(0.04)" font-size="25.60" textLength="79.391" lengthAdjust="spacingAndGlyphs" letter-spacing="4.20" stroke="#000" stroke-width="0.60" stroke-linejoin="round">43cm</text>
<text transform="translate(845.19 2123.38) scale(0.9615 1) rotate(0.04)" font-size="25.60" stroke="#000" stroke-width="0.60" stroke-linejoin="round">/</text>
<text transform="translate(860.99 2123.38) scale(0.7800 1) rotate(0.04)" font-size="25.60" textLength="50.156" lengthAdjust="spacingAndGlyphs" letter-spacing="4.20" stroke="#000" stroke-width="0.60" stroke-linejoin="round">17&quot;</text>
<text transform="translate(919.99 2123.38) scale(0.9615 1) rotate(0.04)" font-size="25.60" stroke="#000" stroke-width="0.60" stroke-linejoin="round">/</text>
<text transform="translate(940.51 2123.38) scale(0.8736 1) rotate(0.04)" font-size="25.60" letter-spacing="1.00" stroke="#000" stroke-width="0.60" stroke-linejoin="round">M</text>
<text transform="translate(1063.10 2123.38) scale(0.7800 1) rotate(0.04)" font-size="25.60" textLength="55.312" lengthAdjust="spacingAndGlyphs" letter-spacing="4.20" stroke="#000" stroke-width="0.60" stroke-linejoin="round">430</text>
<text transform="translate(1168.60 2123.38) scale(0.7800 1) rotate(0.04)" font-size="25.60" textLength="55.312" lengthAdjust="spacingAndGlyphs" letter-spacing="4.20" stroke="#000" stroke-width="0.60" stroke-linejoin="round">595</text>
<text transform="translate(1271.06 2123.38) scale(0.7137 1) rotate(0.04)" font-size="25.60" textLength="81.062" lengthAdjust="spacingAndGlyphs" letter-spacing="4.20" stroke="#000" stroke-width="0.60" stroke-linejoin="round">74,0°</text>
<text transform="translate(1448.64 2123.38) scale(0.7297 1) rotate(0.04)" font-size="25.60" textLength="81.062" lengthAdjust="spacingAndGlyphs" letter-spacing="4.20" stroke="#000" stroke-width="0.60" stroke-linejoin="round">68,5°</text>
<text transform="translate(1554.10 2123.38) scale(0.7800 1) rotate(0.04)" font-size="25.60" textLength="55.312" lengthAdjust="spacingAndGlyphs" letter-spacing="4.20" stroke="#000" stroke-width="0.60" stroke-linejoin="round">125</text>
<text transform="translate(1659.70 2123.38) scale(0.7800 1) rotate(0.04)" font-size="25.60" textLength="55.312" lengthAdjust="spacingAndGlyphs" letter-spacing="4.20" stroke="#000" stroke-width="0.60" stroke-linejoin="round">435</text>
<text transform="translate(1765.10 2123.38) scale(0.7800 1) rotate(0.04)" font-size="25.60" textLength="69.938" lengthAdjust="spacingAndGlyphs" letter-spacing="4.20" stroke="#000" stroke-width="0.60" stroke-linejoin="round">1118</text>
<text transform="translate(1870.50 2123.38) scale(0.7800 1) rotate(0.04)" font-size="25.60" textLength="55.312" lengthAdjust="spacingAndGlyphs" letter-spacing="4.20" stroke="#000" stroke-width="0.60" stroke-linejoin="round">569</text>
<text transform="translate(1975.90 2123.38) scale(0.7800 1) rotate(0.04)" font-size="25.60" textLength="55.312" lengthAdjust="spacingAndGlyphs" letter-spacing="4.20" stroke="#000" stroke-width="0.60" stroke-linejoin="round">432</text>
<text transform="translate(2081.20 2123.38) scale(0.7800 1) rotate(0.04)" font-size="25.60" textLength="55.312" lengthAdjust="spacingAndGlyphs" letter-spacing="4.20" stroke="#000" stroke-width="0.60" stroke-linejoin="round">747</text>
<text transform="translate(2185.90 2123.38) scale(0.7800 1) rotate(0.04)" font-size="25.60" textLength="36.875" lengthAdjust="spacingAndGlyphs" letter-spacing="4.20" stroke="#000" stroke-width="0.60" stroke-linejoin="round">45</text>
<text transform="translate(772.02 2161.28) scale(0.7627 1) rotate(0.04)" font-size="25.60" textLength="79.391" lengthAdjust="spacingAndGlyphs" letter-spacing="4.20" stroke="#000" stroke-width="0.60" stroke-linejoin="round">48cm</text>
<text transform="translate(845.19 2161.28) scale(0.9615 1) rotate(0.04)" font-size="25.60" stroke="#000" stroke-width="0.60" stroke-linejoin="round">/</text>
<text transform="translate(860.99 2161.28) scale(0.7800 1) rotate(0.04)" font-size="25.60" textLength="50.156" lengthAdjust="spacingAndGlyphs" letter-spacing="4.20" stroke="#000" stroke-width="0.60" stroke-linejoin="round">19&quot;</text>
<text transform="translate(919.99 2161.28) scale(0.9615 1) rotate(0.04)" font-size="25.60" stroke="#000" stroke-width="0.60" stroke-linejoin="round">/</text>
<text transform="translate(941.07 2161.28) scale(0.7213 1) rotate(0.04)" font-size="25.60" letter-spacing="1.00" stroke="#000" stroke-width="0.60" stroke-linejoin="round">L</text>
<text transform="translate(1063.10 2161.28) scale(0.7800 1) rotate(0.04)" font-size="25.60" textLength="55.312" lengthAdjust="spacingAndGlyphs" letter-spacing="4.20" stroke="#000" stroke-width="0.60" stroke-linejoin="round">480</text>
<text transform="translate(1168.60 2161.28) scale(0.7800 1) rotate(0.04)" font-size="25.60" textLength="55.312" lengthAdjust="spacingAndGlyphs" letter-spacing="4.20" stroke="#000" stroke-width="0.60" stroke-linejoin="round">615</text>
<text transform="translate(1271.06 2161.28) scale(0.7137 1) rotate(0.04)" font-size="25.60" textLength="81.062" lengthAdjust="spacingAndGlyphs" letter-spacing="4.20" stroke="#000" stroke-width="0.60" stroke-linejoin="round">74,0°</text>
<text transform="translate(1448.64 2161.28) scale(0.7297 1) rotate(0.04)" font-size="25.60" textLength="81.062" lengthAdjust="spacingAndGlyphs" letter-spacing="4.20" stroke="#000" stroke-width="0.60" stroke-linejoin="round">68,5°</text>
<text transform="translate(1554.10 2161.28) scale(0.7800 1) rotate(0.04)" font-size="25.60" textLength="55.312" lengthAdjust="spacingAndGlyphs" letter-spacing="4.20" stroke="#000" stroke-width="0.60" stroke-linejoin="round">140</text>
<text transform="translate(1659.70 2161.28) scale(0.7800 1) rotate(0.04)" font-size="25.60" textLength="55.312" lengthAdjust="spacingAndGlyphs" letter-spacing="4.20" stroke="#000" stroke-width="0.60" stroke-linejoin="round">435</text>
<text transform="translate(1765.10 2161.28) scale(0.7800 1) rotate(0.04)" font-size="25.60" textLength="71.844" lengthAdjust="spacingAndGlyphs" letter-spacing="4.20" stroke="#000" stroke-width="0.60" stroke-linejoin="round">1140</text>
<text transform="translate(1870.50 2161.28) scale(0.7800 1) rotate(0.04)" font-size="25.60" textLength="55.312" lengthAdjust="spacingAndGlyphs" letter-spacing="4.20" stroke="#000" stroke-width="0.60" stroke-linejoin="round">582</text>
<text transform="translate(1975.90 2161.28) scale(0.7800 1) rotate(0.04)" font-size="25.60" textLength="55.312" lengthAdjust="spacingAndGlyphs" letter-spacing="4.20" stroke="#000" stroke-width="0.60" stroke-linejoin="round">448</text>
<text transform="translate(2081.20 2161.28) scale(0.7800 1) rotate(0.04)" font-size="25.60" textLength="55.312" lengthAdjust="spacingAndGlyphs" letter-spacing="4.20" stroke="#000" stroke-width="0.60" stroke-linejoin="round">777</text>
<text transform="translate(2185.90 2161.28) scale(0.7800 1) rotate(0.04)" font-size="25.60" textLength="36.875" lengthAdjust="spacingAndGlyphs" letter-spacing="4.20" stroke="#000" stroke-width="0.60" stroke-linejoin="round">45</text>
<text transform="translate(771.72 2199.18) scale(0.7669 1) rotate(0.04)" font-size="25.60" textLength="79.391" lengthAdjust="spacingAndGlyphs" letter-spacing="4.20" stroke="#000" stroke-width="0.60" stroke-linejoin="round">53cm</text>
<text transform="translate(845.19 2199.18) scale(0.9615 1) rotate(0.04)" font-size="25.60" stroke="#000" stroke-width="0.60" stroke-linejoin="round">/</text>
<text transform="translate(861.30 2199.18) scale(0.7800 1) rotate(0.04)" font-size="25.60" textLength="50.156" lengthAdjust="spacingAndGlyphs" letter-spacing="4.20" stroke="#000" stroke-width="0.60" stroke-linejoin="round">21&quot;</text>
<text transform="translate(919.99 2199.18) scale(0.9615 1) rotate(0.04)" font-size="25.60" stroke="#000" stroke-width="0.60" stroke-linejoin="round">/</text>
<text transform="translate(941.43 2199.18) scale(0.6996 1) rotate(0.04)" font-size="25.60" textLength="33.312" lengthAdjust="spacingAndGlyphs" letter-spacing="1.00" stroke="#000" stroke-width="0.60" stroke-linejoin="round">XL</text>
<text transform="translate(1063.10 2199.18) scale(0.7800 1) rotate(0.04)" font-size="25.60" textLength="55.312" lengthAdjust="spacingAndGlyphs" letter-spacing="4.20" stroke="#000" stroke-width="0.60" stroke-linejoin="round">530</text>
<text transform="translate(1168.60 2199.18) scale(0.7800 1) rotate(0.04)" font-size="25.60" textLength="55.312" lengthAdjust="spacingAndGlyphs" letter-spacing="4.20" stroke="#000" stroke-width="0.60" stroke-linejoin="round">635</text>
<text transform="translate(1271.06 2199.18) scale(0.7137 1) rotate(0.04)" font-size="25.60" textLength="81.062" lengthAdjust="spacingAndGlyphs" letter-spacing="4.20" stroke="#000" stroke-width="0.60" stroke-linejoin="round">74,0°</text>
<text transform="translate(1448.64 2199.18) scale(0.7297 1) rotate(0.04)" font-size="25.60" textLength="81.062" lengthAdjust="spacingAndGlyphs" letter-spacing="4.20" stroke="#000" stroke-width="0.60" stroke-linejoin="round">68,5°</text>
<text transform="translate(1554.10 2199.18) scale(0.7800 1) rotate(0.04)" font-size="25.60" textLength="55.312" lengthAdjust="spacingAndGlyphs" letter-spacing="4.20" stroke="#000" stroke-width="0.60" stroke-linejoin="round">160</text>
<text transform="translate(1659.70 2199.18) scale(0.7800 1) rotate(0.04)" font-size="25.60" textLength="55.312" lengthAdjust="spacingAndGlyphs" letter-spacing="4.20" stroke="#000" stroke-width="0.60" stroke-linejoin="round">435</text>
<text transform="translate(1765.10 2199.18) scale(0.7800 1) rotate(0.04)" font-size="25.60" textLength="71.844" lengthAdjust="spacingAndGlyphs" letter-spacing="4.20" stroke="#000" stroke-width="0.60" stroke-linejoin="round">1162</text>
<text transform="translate(1870.50 2199.18) scale(0.7800 1) rotate(0.04)" font-size="25.60" textLength="55.312" lengthAdjust="spacingAndGlyphs" letter-spacing="4.20" stroke="#000" stroke-width="0.60" stroke-linejoin="round">601</text>
<text transform="translate(1975.90 2199.18) scale(0.7800 1) rotate(0.04)" font-size="25.60" textLength="55.312" lengthAdjust="spacingAndGlyphs" letter-spacing="4.20" stroke="#000" stroke-width="0.60" stroke-linejoin="round">463</text>
<text transform="translate(2081.20 2199.18) scale(0.7800 1) rotate(0.04)" font-size="25.60" textLength="53.406" lengthAdjust="spacingAndGlyphs" letter-spacing="4.20" stroke="#000" stroke-width="0.60" stroke-linejoin="round">811</text>
<text transform="translate(2185.90 2199.18) scale(0.7800 1) rotate(0.04)" font-size="25.60" textLength="36.875" lengthAdjust="spacingAndGlyphs" letter-spacing="4.20" stroke="#000" stroke-width="0.60" stroke-linejoin="round">45</text>
<text transform="translate(38.42 2332.80) scale(0.8370 1) rotate(0.04)" font-size="30.00" textLength="364.641" lengthAdjust="spacingAndGlyphs" font-weight="700" letter-spacing="1.60">ULTRA GLORIETTE 27&quot;</text>
<text transform="translate(37.99 2370.50) scale(0.8588 1) rotate(0.04)" font-size="30.00" textLength="271.156" lengthAdjust="spacingAndGlyphs" font-weight="700" letter-spacing="1.60">PENNY LANE 27&quot;</text>
<text transform="translate(771.72 2274.98) scale(0.7669 1) rotate(0.04)" font-size="25.60" textLength="79.391" lengthAdjust="spacingAndGlyphs" letter-spacing="4.20" stroke="#000" stroke-width="0.60" stroke-linejoin="round">32cm</text>
<text transform="translate(845.19 2274.98) scale(0.9615 1) rotate(0.04)" font-size="25.60" stroke="#000" stroke-width="0.60" stroke-linejoin="round">/</text>
<text transform="translate(860.99 2274.98) scale(0.7800 1) rotate(0.04)" font-size="25.60" textLength="79.906" lengthAdjust="spacingAndGlyphs" letter-spacing="4.20" stroke="#000" stroke-width="0.60" stroke-linejoin="round">12,5&quot;</text>
<text transform="translate(919.99 2274.98) scale(0.9615 1) rotate(0.04)" font-size="25.60" stroke="#000" stroke-width="0.60" stroke-linejoin="round">/</text>
<text transform="translate(941.43 2274.98) scale(0.6944 1) rotate(0.04)" font-size="25.60" textLength="36.156" lengthAdjust="spacingAndGlyphs" letter-spacing="1.00" stroke="#000" stroke-width="0.60" stroke-linejoin="round">XS</text>
<text transform="translate(1063.10 2274.98) scale(0.7800 1) rotate(0.04)" font-size="25.60" textLength="55.312" lengthAdjust="spacingAndGlyphs" letter-spacing="4.20" stroke="#000" stroke-width="0.60" stroke-linejoin="round">320</text>
<text transform="translate(1168.60 2274.98) scale(0.7800 1) rotate(0.04)" font-size="25.60" textLength="55.312" lengthAdjust="spacingAndGlyphs" letter-spacing="4.20" stroke="#000" stroke-width="0.60" stroke-linejoin="round">560</text>
<text transform="translate(1271.06 2274.98) scale(0.7137 1) rotate(0.04)" font-size="25.60" textLength="81.062" lengthAdjust="spacingAndGlyphs" letter-spacing="4.20" stroke="#000" stroke-width="0.60" stroke-linejoin="round">73,0°</text>
<text transform="translate(1448.64 2274.98) scale(0.7297 1) rotate(0.04)" font-size="25.60" textLength="81.062" lengthAdjust="spacingAndGlyphs" letter-spacing="4.20" stroke="#000" stroke-width="0.60" stroke-linejoin="round">68,5°</text>
<text transform="translate(1554.10 2274.98) scale(0.7800 1) rotate(0.04)" font-size="25.60" textLength="53.406" lengthAdjust="spacingAndGlyphs" letter-spacing="4.20" stroke="#000" stroke-width="0.60" stroke-linejoin="round">110</text>
<text transform="translate(1659.70 2274.98) scale(0.7800 1) rotate(0.04)" font-size="25.60" textLength="55.312" lengthAdjust="spacingAndGlyphs" letter-spacing="4.20" stroke="#000" stroke-width="0.60" stroke-linejoin="round">435</text>
<text transform="translate(1765.10 2274.98) scale(0.7800 1) rotate(0.04)" font-size="25.60" textLength="73.750" lengthAdjust="spacingAndGlyphs" letter-spacing="4.20" stroke="#000" stroke-width="0.60" stroke-linejoin="round">1071</text>
<text transform="translate(1870.50 2274.98) scale(0.7800 1) rotate(0.04)" font-size="25.60" textLength="55.312" lengthAdjust="spacingAndGlyphs" letter-spacing="4.20" stroke="#000" stroke-width="0.60" stroke-linejoin="round">555</text>
<text transform="translate(1975.90 2274.98) scale(0.7800 1) rotate(0.04)" font-size="25.60" textLength="55.312" lengthAdjust="spacingAndGlyphs" letter-spacing="4.20" stroke="#000" stroke-width="0.60" stroke-linejoin="round">390</text>
<text transform="translate(2081.20 2274.98) scale(0.7800 1) rotate(0.04)" font-size="25.60" textLength="55.312" lengthAdjust="spacingAndGlyphs" letter-spacing="4.20" stroke="#000" stroke-width="0.60" stroke-linejoin="round">714</text>
<text transform="translate(2185.90 2274.98) scale(0.7800 1) rotate(0.04)" font-size="25.60" textLength="36.875" lengthAdjust="spacingAndGlyphs" letter-spacing="4.20" stroke="#000" stroke-width="0.60" stroke-linejoin="round">45</text>
<text transform="translate(771.72 2312.88) scale(0.7669 1) rotate(0.04)" font-size="25.60" textLength="79.391" lengthAdjust="spacingAndGlyphs" letter-spacing="4.20" stroke="#000" stroke-width="0.60" stroke-linejoin="round">37cm</text>
<text transform="translate(845.19 2312.88) scale(0.9615 1) rotate(0.04)" font-size="25.60" stroke="#000" stroke-width="0.60" stroke-linejoin="round">/</text>
<text transform="translate(860.99 2312.88) scale(0.7800 1) rotate(0.04)" font-size="25.60" textLength="50.156" lengthAdjust="spacingAndGlyphs" letter-spacing="4.20" stroke="#000" stroke-width="0.60" stroke-linejoin="round">15&quot;</text>
<text transform="translate(919.99 2312.88) scale(0.9615 1) rotate(0.04)" font-size="25.60" stroke="#000" stroke-width="0.60" stroke-linejoin="round">/</text>
<text transform="translate(941.63 2312.88) scale(0.7342 1) rotate(0.04)" font-size="25.60" letter-spacing="1.00" stroke="#000" stroke-width="0.60" stroke-linejoin="round">S</text>
<text transform="translate(1063.10 2312.88) scale(0.7800 1) rotate(0.04)" font-size="25.60" textLength="55.312" lengthAdjust="spacingAndGlyphs" letter-spacing="4.20" stroke="#000" stroke-width="0.60" stroke-linejoin="round">370</text>
<text transform="translate(1168.60 2312.88) scale(0.7800 1) rotate(0.04)" font-size="25.60" textLength="55.312" lengthAdjust="spacingAndGlyphs" letter-spacing="4.20" stroke="#000" stroke-width="0.60" stroke-linejoin="round">565</text>
<text transform="translate(1271.06 2312.88) scale(0.7137 1) rotate(0.04)" font-size="25.60" textLength="81.062" lengthAdjust="spacingAndGlyphs" letter-spacing="4.20" stroke="#000" stroke-width="0.60" stroke-linejoin="round">73,0°</text>
<text transform="translate(1448.64 2312.88) scale(0.7297 1) rotate(0.04)" font-size="25.60" textLength="81.062" lengthAdjust="spacingAndGlyphs" letter-spacing="4.20" stroke="#000" stroke-width="0.60" stroke-linejoin="round">68,5°</text>
<text transform="translate(1554.10 2312.88) scale(0.7800 1) rotate(0.04)" font-size="25.60" textLength="55.312" lengthAdjust="spacingAndGlyphs" letter-spacing="4.20" stroke="#000" stroke-width="0.60" stroke-linejoin="round">125</text>
<text transform="translate(1659.70 2312.88) scale(0.7800 1) rotate(0.04)" font-size="25.60" textLength="55.312" lengthAdjust="spacingAndGlyphs" letter-spacing="4.20" stroke="#000" stroke-width="0.60" stroke-linejoin="round">435</text>
<text transform="translate(1765.10 2312.88) scale(0.7800 1) rotate(0.04)" font-size="25.60" textLength="73.750" lengthAdjust="spacingAndGlyphs" letter-spacing="4.20" stroke="#000" stroke-width="0.60" stroke-linejoin="round">1077</text>
<text transform="translate(1870.50 2312.88) scale(0.7800 1) rotate(0.04)" font-size="25.60" textLength="55.312" lengthAdjust="spacingAndGlyphs" letter-spacing="4.20" stroke="#000" stroke-width="0.60" stroke-linejoin="round">569</text>
<text transform="translate(1975.90 2312.88) scale(0.7800 1) rotate(0.04)" font-size="25.60" textLength="55.312" lengthAdjust="spacingAndGlyphs" letter-spacing="4.20" stroke="#000" stroke-width="0.60" stroke-linejoin="round">391</text>
<text transform="translate(2081.20 2312.88) scale(0.7800 1) rotate(0.04)" font-size="25.60" textLength="55.312" lengthAdjust="spacingAndGlyphs" letter-spacing="4.20" stroke="#000" stroke-width="0.60" stroke-linejoin="round">724</text>
<text transform="translate(2185.90 2312.88) scale(0.7800 1) rotate(0.04)" font-size="25.60" textLength="36.875" lengthAdjust="spacingAndGlyphs" letter-spacing="4.20" stroke="#000" stroke-width="0.60" stroke-linejoin="round">45</text>
<text transform="translate(772.02 2350.78) scale(0.7627 1) rotate(0.04)" font-size="25.60" textLength="79.391" lengthAdjust="spacingAndGlyphs" letter-spacing="4.20" stroke="#000" stroke-width="0.60" stroke-linejoin="round">42cm</text>
<text transform="translate(845.19 2350.78) scale(0.9615 1) rotate(0.04)" font-size="25.60" stroke="#000" stroke-width="0.60" stroke-linejoin="round">/</text>
<text transform="translate(860.99 2350.78) scale(0.7800 1) rotate(0.04)" font-size="25.60" textLength="50.156" lengthAdjust="spacingAndGlyphs" letter-spacing="4.20" stroke="#000" stroke-width="0.60" stroke-linejoin="round">17&quot;</text>
<text transform="translate(919.99 2350.78) scale(0.9615 1) rotate(0.04)" font-size="25.60" stroke="#000" stroke-width="0.60" stroke-linejoin="round">/</text>
<text transform="translate(940.51 2350.78) scale(0.8736 1) rotate(0.04)" font-size="25.60" letter-spacing="1.00" stroke="#000" stroke-width="0.60" stroke-linejoin="round">M</text>
<text transform="translate(1063.10 2350.78) scale(0.7800 1) rotate(0.04)" font-size="25.60" textLength="55.312" lengthAdjust="spacingAndGlyphs" letter-spacing="4.20" stroke="#000" stroke-width="0.60" stroke-linejoin="round">420</text>
<text transform="translate(1168.60 2350.78) scale(0.7800 1) rotate(0.04)" font-size="25.60" textLength="55.312" lengthAdjust="spacingAndGlyphs" letter-spacing="4.20" stroke="#000" stroke-width="0.60" stroke-linejoin="round">585</text>
<text transform="translate(1271.06 2350.78) scale(0.7137 1) rotate(0.04)" font-size="25.60" textLength="81.062" lengthAdjust="spacingAndGlyphs" letter-spacing="4.20" stroke="#000" stroke-width="0.60" stroke-linejoin="round">73,0°</text>
<text transform="translate(1448.64 2350.78) scale(0.7297 1) rotate(0.04)" font-size="25.60" textLength="81.062" lengthAdjust="spacingAndGlyphs" letter-spacing="4.20" stroke="#000" stroke-width="0.60" stroke-linejoin="round">68,5°</text>
<text transform="translate(1554.10 2350.78) scale(0.7800 1) rotate(0.04)" font-size="25.60" textLength="55.312" lengthAdjust="spacingAndGlyphs" letter-spacing="4.20" stroke="#000" stroke-width="0.60" stroke-linejoin="round">140</text>
<text transform="translate(1659.70 2350.78) scale(0.7800 1) rotate(0.04)" font-size="25.60" textLength="55.312" lengthAdjust="spacingAndGlyphs" letter-spacing="4.20" stroke="#000" stroke-width="0.60" stroke-linejoin="round">435</text>
<text transform="translate(1765.10 2350.78) scale(0.7800 1) rotate(0.04)" font-size="25.60" textLength="73.750" lengthAdjust="spacingAndGlyphs" letter-spacing="4.20" stroke="#000" stroke-width="0.60" stroke-linejoin="round">1099</text>
<text transform="translate(1870.50 2350.78) scale(0.7800 1) rotate(0.04)" font-size="25.60" textLength="55.312" lengthAdjust="spacingAndGlyphs" letter-spacing="4.20" stroke="#000" stroke-width="0.60" stroke-linejoin="round">582</text>
<text transform="translate(1975.90 2350.78) scale(0.7800 1) rotate(0.04)" font-size="25.60" textLength="55.312" lengthAdjust="spacingAndGlyphs" letter-spacing="4.20" stroke="#000" stroke-width="0.60" stroke-linejoin="round">407</text>
<text transform="translate(2081.20 2350.78) scale(0.7800 1) rotate(0.04)" font-size="25.60" textLength="55.312" lengthAdjust="spacingAndGlyphs" letter-spacing="4.20" stroke="#000" stroke-width="0.60" stroke-linejoin="round">751</text>
<text transform="translate(2185.90 2350.78) scale(0.7800 1) rotate(0.04)" font-size="25.60" textLength="36.875" lengthAdjust="spacingAndGlyphs" letter-spacing="4.20" stroke="#000" stroke-width="0.60" stroke-linejoin="round">45</text>
<text transform="translate(772.02 2388.68) scale(0.7627 1) rotate(0.04)" font-size="25.60" textLength="79.391" lengthAdjust="spacingAndGlyphs" letter-spacing="4.20" stroke="#000" stroke-width="0.60" stroke-linejoin="round">47cm</text>
<text transform="translate(845.19 2388.68) scale(0.9615 1) rotate(0.04)" font-size="25.60" stroke="#000" stroke-width="0.60" stroke-linejoin="round">/</text>
<text transform="translate(860.99 2388.68) scale(0.7800 1) rotate(0.04)" font-size="25.60" textLength="50.156" lengthAdjust="spacingAndGlyphs" letter-spacing="4.20" stroke="#000" stroke-width="0.60" stroke-linejoin="round">19&quot;</text>
<text transform="translate(919.99 2388.68) scale(0.9615 1) rotate(0.04)" font-size="25.60" stroke="#000" stroke-width="0.60" stroke-linejoin="round">/</text>
<text transform="translate(941.07 2388.68) scale(0.7213 1) rotate(0.04)" font-size="25.60" letter-spacing="1.00" stroke="#000" stroke-width="0.60" stroke-linejoin="round">L</text>
<text transform="translate(1063.10 2388.68) scale(0.7800 1) rotate(0.04)" font-size="25.60" textLength="55.312" lengthAdjust="spacingAndGlyphs" letter-spacing="4.20" stroke="#000" stroke-width="0.60" stroke-linejoin="round">470</text>
<text transform="translate(1168.60 2388.68) scale(0.7800 1) rotate(0.04)" font-size="25.60" textLength="55.312" lengthAdjust="spacingAndGlyphs" letter-spacing="4.20" stroke="#000" stroke-width="0.60" stroke-linejoin="round">605</text>
<text transform="translate(1271.06 2388.68) scale(0.7137 1) rotate(0.04)" font-size="25.60" textLength="81.062" lengthAdjust="spacingAndGlyphs" letter-spacing="4.20" stroke="#000" stroke-width="0.60" stroke-linejoin="round">73,0°</text>
<text transform="translate(1448.64 2388.68) scale(0.7297 1) rotate(0.04)" font-size="25.60" textLength="81.062" lengthAdjust="spacingAndGlyphs" letter-spacing="4.20" stroke="#000" stroke-width="0.60" stroke-linejoin="round">68,5°</text>
<text transform="translate(1554.10 2388.68) scale(0.7800 1) rotate(0.04)" font-size="25.60" textLength="55.312" lengthAdjust="spacingAndGlyphs" letter-spacing="4.20" stroke="#000" stroke-width="0.60" stroke-linejoin="round">160</text>
<text transform="translate(1659.70 2388.68) scale(0.7800 1) rotate(0.04)" font-size="25.60" textLength="55.312" lengthAdjust="spacingAndGlyphs" letter-spacing="4.20" stroke="#000" stroke-width="0.60" stroke-linejoin="round">435</text>
<text transform="translate(1765.10 2388.68) scale(0.7800 1) rotate(0.04)" font-size="25.60" textLength="71.844" lengthAdjust="spacingAndGlyphs" letter-spacing="4.20" stroke="#000" stroke-width="0.60" stroke-linejoin="round">1120</text>
<text transform="translate(1870.50 2388.68) scale(0.7800 1) rotate(0.04)" font-size="25.60" textLength="55.312" lengthAdjust="spacingAndGlyphs" letter-spacing="4.20" stroke="#000" stroke-width="0.60" stroke-linejoin="round">601</text>
<text transform="translate(1975.90 2388.68) scale(0.7800 1) rotate(0.04)" font-size="25.60" textLength="55.312" lengthAdjust="spacingAndGlyphs" letter-spacing="4.20" stroke="#000" stroke-width="0.60" stroke-linejoin="round">421</text>
<text transform="translate(2081.20 2388.68) scale(0.7800 1) rotate(0.04)" font-size="25.60" textLength="55.312" lengthAdjust="spacingAndGlyphs" letter-spacing="4.20" stroke="#000" stroke-width="0.60" stroke-linejoin="round">783</text>
<text transform="translate(2185.90 2388.68) scale(0.7800 1) rotate(0.04)" font-size="25.60" textLength="36.875" lengthAdjust="spacingAndGlyphs" letter-spacing="4.20" stroke="#000" stroke-width="0.60" stroke-linejoin="round">45</text>
<text transform="translate(771.72 2426.58) scale(0.7669 1) rotate(0.04)" font-size="25.60" textLength="79.391" lengthAdjust="spacingAndGlyphs" letter-spacing="4.20" stroke="#000" stroke-width="0.60" stroke-linejoin="round">52cm</text>
<text transform="translate(845.19 2426.58) scale(0.9615 1) rotate(0.04)" font-size="25.60" stroke="#000" stroke-width="0.60" stroke-linejoin="round">/</text>
<text transform="translate(861.30 2426.58) scale(0.7800 1) rotate(0.04)" font-size="25.60" textLength="50.156" lengthAdjust="spacingAndGlyphs" letter-spacing="4.20" stroke="#000" stroke-width="0.60" stroke-linejoin="round">21&quot;</text>
<text transform="translate(919.99 2426.58) scale(0.9615 1) rotate(0.04)" font-size="25.60" stroke="#000" stroke-width="0.60" stroke-linejoin="round">/</text>
<text transform="translate(941.43 2426.58) scale(0.6996 1) rotate(0.04)" font-size="25.60" textLength="33.312" lengthAdjust="spacingAndGlyphs" letter-spacing="1.00" stroke="#000" stroke-width="0.60" stroke-linejoin="round">XL</text>
<text transform="translate(1063.10 2426.58) scale(0.7800 1) rotate(0.04)" font-size="25.60" textLength="55.312" lengthAdjust="spacingAndGlyphs" letter-spacing="4.20" stroke="#000" stroke-width="0.60" stroke-linejoin="round">520</text>
<text transform="translate(1168.60 2426.58) scale(0.7800 1) rotate(0.04)" font-size="25.60" textLength="55.312" lengthAdjust="spacingAndGlyphs" letter-spacing="4.20" stroke="#000" stroke-width="0.60" stroke-linejoin="round">625</text>
<text transform="translate(1271.06 2426.58) scale(0.7137 1) rotate(0.04)" font-size="25.60" textLength="81.062" lengthAdjust="spacingAndGlyphs" letter-spacing="4.20" stroke="#000" stroke-width="0.60" stroke-linejoin="round">73,0°</text>
<text transform="translate(1448.64 2426.58) scale(0.7297 1) rotate(0.04)" font-size="25.60" textLength="81.062" lengthAdjust="spacingAndGlyphs" letter-spacing="4.20" stroke="#000" stroke-width="0.60" stroke-linejoin="round">68,5°</text>
<text transform="translate(1554.10 2426.58) scale(0.7800 1) rotate(0.04)" font-size="25.60" textLength="55.312" lengthAdjust="spacingAndGlyphs" letter-spacing="4.20" stroke="#000" stroke-width="0.60" stroke-linejoin="round">180</text>
<text transform="translate(1659.70 2426.58) scale(0.7800 1) rotate(0.04)" font-size="25.60" textLength="55.312" lengthAdjust="spacingAndGlyphs" letter-spacing="4.20" stroke="#000" stroke-width="0.60" stroke-linejoin="round">435</text>
<text transform="translate(1765.10 2426.58) scale(0.7800 1) rotate(0.04)" font-size="25.60" textLength="71.844" lengthAdjust="spacingAndGlyphs" letter-spacing="4.20" stroke="#000" stroke-width="0.60" stroke-linejoin="round">1142</text>
<text transform="translate(1870.50 2426.58) scale(0.7800 1) rotate(0.04)" font-size="25.60" textLength="55.312" lengthAdjust="spacingAndGlyphs" letter-spacing="4.20" stroke="#000" stroke-width="0.60" stroke-linejoin="round">620</text>
<text transform="translate(1975.90 2426.58) scale(0.7800 1) rotate(0.04)" font-size="25.60" textLength="55.312" lengthAdjust="spacingAndGlyphs" letter-spacing="4.20" stroke="#000" stroke-width="0.60" stroke-linejoin="round">436</text>
<text transform="translate(2081.20 2426.58) scale(0.7800 1) rotate(0.04)" font-size="25.60" textLength="55.312" lengthAdjust="spacingAndGlyphs" letter-spacing="4.20" stroke="#000" stroke-width="0.60" stroke-linejoin="round">814</text>
<text transform="translate(2185.90 2426.58) scale(0.7800 1) rotate(0.04)" font-size="25.60" textLength="36.875" lengthAdjust="spacingAndGlyphs" letter-spacing="4.20" stroke="#000" stroke-width="0.60" stroke-linejoin="round">45</text>
</g>
</svg>
</body>
</html>
